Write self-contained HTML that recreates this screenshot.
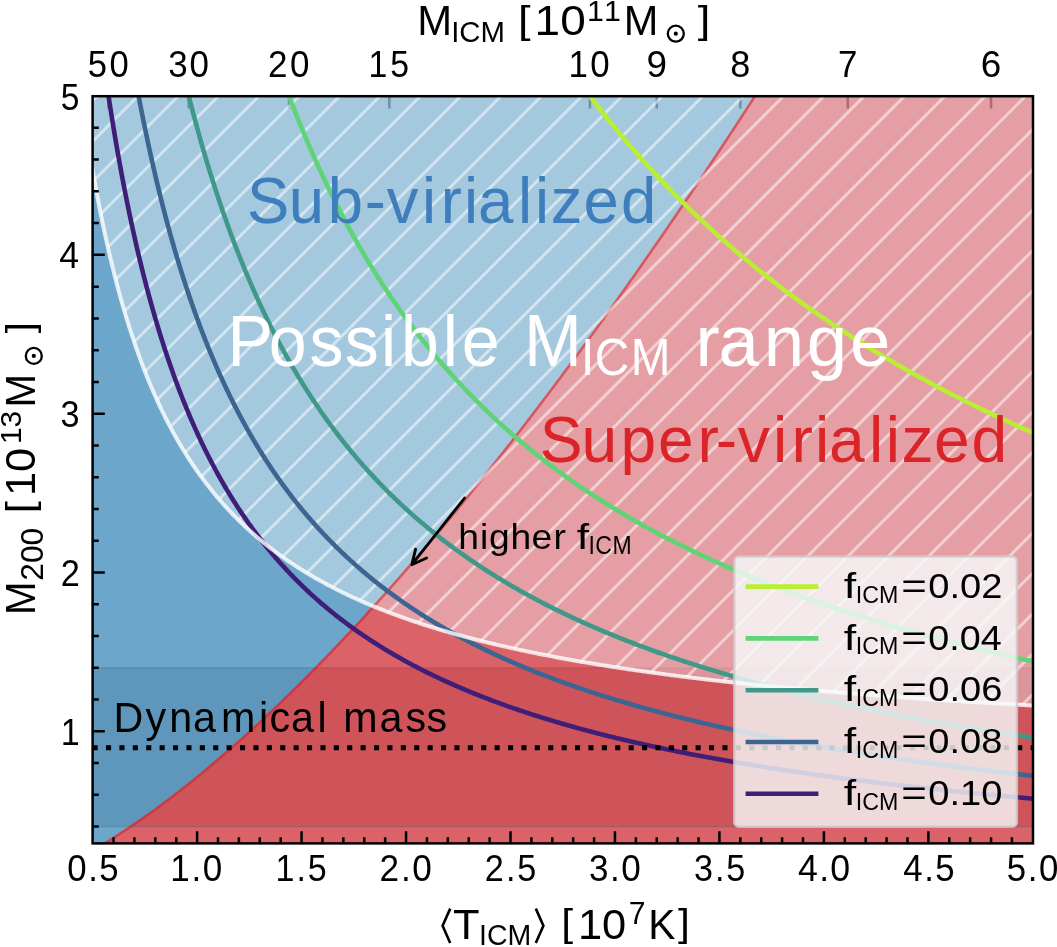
<!DOCTYPE html>
<html><head><meta charset="utf-8"><style>
html,body{margin:0;padding:0;background:#fff;width:1057px;height:947px;overflow:hidden}
svg{display:block}
text{font-family:"Liberation Sans",sans-serif;font-kerning:none}
.gt{opacity:0.999}
</style></head><body>
<svg width="1057" height="947" viewBox="0 0 1057 947"><defs>
<clipPath id="ax"><rect x="92.6" y="96.2" width="940.4" height="747.2"/></clipPath>
<clipPath id="hz"><polygon points="82.19,102.9 83.58,112.73 84.97,122.28 86.36,131.56 87.75,140.57 89.14,149.33 90.53,157.85 91.92,166.14 93.31,174.21 94.7,182.06 96.09,189.71 97.48,197.16 98.87,204.43 100.26,211.51 101.65,218.41 103.04,225.15 104.43,231.72 105.82,238.14 107.21,244.4 108.6,250.52 109.99,256.49 111.38,262.33 112.77,268.04 114.16,273.62 115.55,279.07 116.94,284.41 118.33,289.63 119.72,294.74 121.11,299.75 122.5,304.64 123.89,309.44 125.28,314.13 126.67,318.74 128.06,323.24 129.45,327.66 130.84,332 132.23,336.24 133.62,340.41 135.01,344.49 136.4,348.5 137.79,352.43 139.18,356.29 140.57,360.08 141.96,363.8 143.35,367.45 144.74,371.03 146.13,374.55 147.52,378.01 148.91,381.41 150.3,384.75 151.69,388.03 153.08,391.26 154.47,394.43 155.86,397.55 157.25,400.61 158.64,403.63 160.03,406.6 161.42,409.51 162.81,412.38 164.2,415.21 165.59,417.99 166.98,420.73 168.37,423.42 169.76,426.07 171.15,428.68 172.54,431.25 173.93,433.79 175.32,436.28 176.71,438.74 178.09,441.16 179.48,443.54 180.87,445.89 182.26,448.21 183.65,450.49 185.04,452.74 186.43,454.96 187.82,457.15 189.21,459.3 190.6,461.43 191.99,463.52 193.38,465.59 194.77,467.63 196.16,469.64 197.55,471.63 198.94,473.59 200.33,475.52 201.72,477.43 203.11,479.31 204.5,481.17 205.89,483 207.28,484.81 208.67,486.6 210.06,488.36 211.45,490.11 212.84,491.83 214.23,493.52 215.62,495.2 217.01,496.86 218.4,498.5 219.79,500.11 221.18,501.71 222.57,503.29 223.96,504.85 225.35,506.39 226.74,507.91 228.13,509.42 229.52,510.9 230.91,512.37 232.3,513.83 233.69,515.26 235.08,516.68 236.47,518.09 237.86,519.48 239.25,520.85 240.64,522.21 242.03,523.55 243.42,524.88 244.81,526.19 246.2,527.49 247.59,528.77 248.98,530.04 250.37,531.3 251.76,532.54 253.15,533.77 254.54,534.99 255.93,536.19 257.32,537.39 258.71,538.57 260.1,539.73 261.49,540.89 262.88,542.03 264.27,543.16 265.66,544.28 267.05,545.39 268.44,546.49 269.83,547.58 271.22,548.65 272.61,549.72 274,550.77 275.39,551.82 276.78,552.85 278.17,553.88 279.56,554.89 280.95,555.9 282.34,556.89 283.73,557.88 285.12,558.85 286.51,559.82 287.9,560.78 289.29,561.73 290.68,562.67 292.07,563.6 293.46,564.52 294.85,565.44 296.24,566.34 297.63,567.24 299.01,568.13 300.4,569.01 301.79,569.88 303.18,570.75 304.57,571.61 305.96,572.46 307.35,573.3 308.74,574.14 310.13,574.97 311.52,575.79 312.91,576.6 314.3,577.41 315.69,578.21 317.08,579 318.47,579.79 319.86,580.57 321.25,581.34 322.64,582.11 324.03,582.87 325.42,583.62 326.81,584.37 328.2,585.11 329.59,585.85 330.98,586.58 332.37,587.3 333.76,588.02 335.15,588.73 336.54,589.43 337.93,590.13 339.32,590.83 340.71,591.52 342.1,592.2 343.49,592.88 344.88,593.55 346.27,594.22 347.66,594.88 349.05,595.54 350.44,596.19 351.83,596.84 353.22,597.48 354.61,598.12 356,598.75 357.39,599.38 358.78,600 360.17,600.62 361.56,601.23 362.95,601.84 364.34,602.44 365.73,603.04 367.12,603.64 368.51,604.23 369.9,604.82 371.29,605.4 372.68,605.98 374.07,606.55 375.46,607.12 376.85,607.68 378.24,608.24 379.63,608.8 381.02,609.35 382.41,609.9 383.8,610.45 385.19,610.99 386.58,611.53 387.97,612.06 389.36,612.59 390.75,613.12 392.14,613.64 393.53,614.16 394.92,614.68 396.31,615.19 397.7,615.7 399.09,616.2 400.48,616.7 401.87,617.2 403.26,617.7 404.65,618.19 406.04,618.67 407.43,619.16 408.82,619.64 410.21,620.12 411.6,620.59 412.99,621.07 414.38,621.53 415.77,622 417.16,622.46 418.54,622.92 419.93,623.38 421.32,623.83 422.71,624.28 424.1,624.73 425.49,625.18 426.88,625.62 428.27,626.06 429.66,626.49 431.05,626.93 432.44,627.36 433.83,627.79 435.22,628.21 436.61,628.64 438,629.06 439.39,629.47 440.78,629.89 442.17,630.3 443.56,630.71 444.95,631.12 446.34,631.52 447.73,631.93 449.12,632.33 450.51,632.72 451.9,633.12 453.29,633.51 454.68,633.9 456.07,634.29 457.46,634.67 458.85,635.06 460.24,635.44 461.63,635.82 463.02,636.19 464.41,636.57 465.8,636.94 467.19,637.31 468.58,637.68 469.97,638.04 471.36,638.41 472.75,638.77 474.14,639.13 475.53,639.49 476.92,639.84 478.31,640.19 479.7,640.54 481.09,640.89 482.48,641.24 483.87,641.59 485.26,641.93 486.65,642.27 488.04,642.61 489.43,642.95 490.82,643.28 492.21,643.62 493.6,643.95 494.99,644.28 496.38,644.61 497.77,644.93 499.16,645.26 500.55,645.58 501.94,645.9 503.33,646.22 504.72,646.54 506.11,646.85 507.5,647.17 508.89,647.48 510.28,647.79 511.67,648.1 513.06,648.41 514.45,648.71 515.84,649.01 517.23,649.32 518.62,649.62 520.01,649.92 521.4,650.21 522.79,650.51 524.18,650.81 525.57,651.1 526.96,651.39 528.35,651.68 529.74,651.97 531.13,652.25 532.52,652.54 533.91,652.82 535.3,653.11 536.69,653.39 538.08,653.67 539.46,653.95 540.85,654.22 542.24,654.5 543.63,654.77 545.02,655.04 546.41,655.32 547.8,655.59 549.19,655.85 550.58,656.12 551.97,656.39 553.36,656.65 554.75,656.91 556.14,657.18 557.53,657.44 558.92,657.7 560.31,657.95 561.7,658.21 563.09,658.47 564.48,658.72 565.87,658.97 567.26,659.22 568.65,659.48 570.04,659.72 571.43,659.97 572.82,660.22 574.21,660.47 575.6,660.71 576.99,660.95 578.38,661.2 579.77,661.44 581.16,661.68 582.55,661.92 583.94,662.15 585.33,662.39 586.72,662.63 588.11,662.86 589.5,663.09 590.89,663.32 592.28,663.56 593.67,663.79 595.06,664.01 596.45,664.24 597.84,664.47 599.23,664.7 600.62,664.92 602.01,665.14 603.4,665.37 604.79,665.59 606.18,665.81 607.57,666.03 608.96,666.25 610.35,666.46 611.74,666.68 613.13,666.9 614.52,667.11 615.91,667.33 617.3,667.54 618.69,667.75 620.08,667.96 621.47,668.17 622.86,668.38 624.25,668.59 625.64,668.8 627.03,669 628.42,669.21 629.81,669.41 631.2,669.61 632.59,669.82 633.98,670.02 635.37,670.22 636.76,670.42 638.15,670.62 639.54,670.82 640.93,671.02 642.32,671.21 643.71,671.41 645.1,671.6 646.49,671.8 647.88,671.99 649.27,672.18 650.66,672.37 652.05,672.56 653.44,672.75 654.83,672.94 656.22,673.13 657.61,673.32 658.99,673.51 660.38,673.69 661.77,673.88 663.16,674.06 664.55,674.25 665.94,674.43 667.33,674.61 668.72,674.79 670.11,674.97 671.5,675.15 672.89,675.33 674.28,675.51 675.67,675.69 677.06,675.87 678.45,676.04 679.84,676.22 681.23,676.39 682.62,676.57 684.01,676.74 685.4,676.91 686.79,677.09 688.18,677.26 689.57,677.43 690.96,677.6 692.35,677.77 693.74,677.94 695.13,678.1 696.52,678.27 697.91,678.44 699.3,678.6 700.69,678.77 702.08,678.93 703.47,679.1 704.86,679.26 706.25,679.42 707.64,679.59 709.03,679.75 710.42,679.91 711.81,680.07 713.2,680.23 714.59,680.39 715.98,680.55 717.37,680.7 718.76,680.86 720.15,681.02 721.54,681.17 722.93,681.33 724.32,681.48 725.71,681.64 727.1,681.79 728.49,681.94 729.88,682.1 731.27,682.25 732.66,682.4 734.05,682.55 735.44,682.7 736.83,682.85 738.22,683 739.61,683.15 741,683.29 742.39,683.44 743.78,683.59 745.17,683.74 746.56,683.88 747.95,684.03 749.34,684.17 750.73,684.31 752.12,684.46 753.51,684.6 754.9,684.74 756.29,684.89 757.68,685.03 759.07,685.17 760.46,685.31 761.85,685.45 763.24,685.59 764.63,685.73 766.02,685.87 767.41,686 768.8,686.14 770.19,686.28 771.58,686.41 772.97,686.55 774.36,686.69 775.75,686.82 777.14,686.95 778.53,687.09 779.91,687.22 781.3,687.36 782.69,687.49 784.08,687.62 785.47,687.75 786.86,687.88 788.25,688.01 789.64,688.14 791.03,688.27 792.42,688.4 793.81,688.53 795.2,688.66 796.59,688.79 797.98,688.92 799.37,689.04 800.76,689.17 802.15,689.3 803.54,689.42 804.93,689.55 806.32,689.67 807.71,689.8 809.1,689.92 810.49,690.04 811.88,690.17 813.27,690.29 814.66,690.41 816.05,690.53 817.44,690.66 818.83,690.78 820.22,690.9 821.61,691.02 823,691.14 824.39,691.26 825.78,691.38 827.17,691.49 828.56,691.61 829.95,691.73 831.34,691.85 832.73,691.97 834.12,692.08 835.51,692.2 836.9,692.31 838.29,692.43 839.68,692.55 841.07,692.66 842.46,692.77 843.85,692.89 845.24,693 846.63,693.12 848.02,693.23 849.41,693.34 850.8,693.45 852.19,693.57 853.58,693.68 854.97,693.79 856.36,693.9 857.75,694.01 859.14,694.12 860.53,694.23 861.92,694.34 863.31,694.45 864.7,694.56 866.09,694.66 867.48,694.77 868.87,694.88 870.26,694.99 871.65,695.09 873.04,695.2 874.43,695.31 875.82,695.41 877.21,695.52 878.6,695.62 879.99,695.73 881.38,695.83 882.77,695.94 884.16,696.04 885.55,696.14 886.94,696.25 888.33,696.35 889.72,696.45 891.11,696.56 892.5,696.66 893.89,696.76 895.28,696.86 896.67,696.96 898.06,697.06 899.44,697.16 900.83,697.26 902.22,697.36 903.61,697.46 905,697.56 906.39,697.66 907.78,697.76 909.17,697.86 910.56,697.95 911.95,698.05 913.34,698.15 914.73,698.25 916.12,698.34 917.51,698.44 918.9,698.54 920.29,698.63 921.68,698.73 923.07,698.82 924.46,698.92 925.85,699.01 927.24,699.11 928.63,699.2 930.02,699.3 931.41,699.39 932.8,699.48 934.19,699.58 935.58,699.67 936.97,699.76 938.36,699.85 939.75,699.95 941.14,700.04 942.53,700.13 943.92,700.22 945.31,700.31 946.7,700.4 948.09,700.49 949.48,700.58 950.87,700.67 952.26,700.76 953.65,700.85 955.04,700.94 956.43,701.03 957.82,701.12 959.21,701.2 960.6,701.29 961.99,701.38 963.38,701.47 964.77,701.56 966.16,701.64 967.55,701.73 968.94,701.82 970.33,701.9 971.72,701.99 973.11,702.07 974.5,702.16 975.89,702.24 977.28,702.33 978.67,702.41 980.06,702.5 981.45,702.58 982.84,702.67 984.23,702.75 985.62,702.83 987.01,702.92 988.4,703 989.79,703.08 991.18,703.17 992.57,703.25 993.96,703.33 995.35,703.41 996.74,703.49 998.13,703.58 999.52,703.66 1000.91,703.74 1002.3,703.82 1003.69,703.9 1005.08,703.98 1006.47,704.06 1007.86,704.14 1009.25,704.22 1010.64,704.3 1012.03,704.38 1013.42,704.46 1014.81,704.54 1016.2,704.62 1017.59,704.69 1018.97,704.77 1020.36,704.85 1021.75,704.93 1023.14,705.01 1024.53,705.08 1025.92,705.16 1027.31,705.24 1028.7,705.31 1030.09,705.39 1031.48,705.47 1032.87,705.54 1034.26,705.62 1035.65,705.69 1037.04,705.77 1038.43,705.85 1039.82,705.92 1041.21,706 1042.6,706.07 1043.99,706.14 1045.38,706.22 1046.77,706.29 1048.16,706.37 1049.55,706.44 1050.94,706.51 1052.33,706.59 1053.72,706.66 1053.72,-100 82.19,-100"/></clipPath>
<clipPath id="sz"><polygon points="82.19,102.9 83.58,112.73 84.97,122.28 86.36,131.56 87.75,140.57 89.14,149.33 90.53,157.85 91.92,166.14 93.31,174.21 94.7,182.06 96.09,189.71 97.48,197.16 98.87,204.43 100.26,211.51 101.65,218.41 103.04,225.15 104.43,231.72 105.82,238.14 107.21,244.4 108.6,250.52 109.99,256.49 111.38,262.33 112.77,268.04 114.16,273.62 115.55,279.07 116.94,284.41 118.33,289.63 119.72,294.74 121.11,299.75 122.5,304.64 123.89,309.44 125.28,314.13 126.67,318.74 128.06,323.24 129.45,327.66 130.84,332 132.23,336.24 133.62,340.41 135.01,344.49 136.4,348.5 137.79,352.43 139.18,356.29 140.57,360.08 141.96,363.8 143.35,367.45 144.74,371.03 146.13,374.55 147.52,378.01 148.91,381.41 150.3,384.75 151.69,388.03 153.08,391.26 154.47,394.43 155.86,397.55 157.25,400.61 158.64,403.63 160.03,406.6 161.42,409.51 162.81,412.38 164.2,415.21 165.59,417.99 166.98,420.73 168.37,423.42 169.76,426.07 171.15,428.68 172.54,431.25 173.93,433.79 175.32,436.28 176.71,438.74 178.09,441.16 179.48,443.54 180.87,445.89 182.26,448.21 183.65,450.49 185.04,452.74 186.43,454.96 187.82,457.15 189.21,459.3 190.6,461.43 191.99,463.52 193.38,465.59 194.77,467.63 196.16,469.64 197.55,471.63 198.94,473.59 200.33,475.52 201.72,477.43 203.11,479.31 204.5,481.17 205.89,483 207.28,484.81 208.67,486.6 210.06,488.36 211.45,490.11 212.84,491.83 214.23,493.52 215.62,495.2 217.01,496.86 218.4,498.5 219.79,500.11 221.18,501.71 222.57,503.29 223.96,504.85 225.35,506.39 226.74,507.91 228.13,509.42 229.52,510.9 230.91,512.37 232.3,513.83 233.69,515.26 235.08,516.68 236.47,518.09 237.86,519.48 239.25,520.85 240.64,522.21 242.03,523.55 243.42,524.88 244.81,526.19 246.2,527.49 247.59,528.77 248.98,530.04 250.37,531.3 251.76,532.54 253.15,533.77 254.54,534.99 255.93,536.19 257.32,537.39 258.71,538.57 260.1,539.73 261.49,540.89 262.88,542.03 264.27,543.16 265.66,544.28 267.05,545.39 268.44,546.49 269.83,547.58 271.22,548.65 272.61,549.72 274,550.77 275.39,551.82 276.78,552.85 278.17,553.88 279.56,554.89 280.95,555.9 282.34,556.89 283.73,557.88 285.12,558.85 286.51,559.82 287.9,560.78 289.29,561.73 290.68,562.67 292.07,563.6 293.46,564.52 294.85,565.44 296.24,566.34 297.63,567.24 299.01,568.13 300.4,569.01 301.79,569.88 303.18,570.75 304.57,571.61 305.96,572.46 307.35,573.3 308.74,574.14 310.13,574.97 311.52,575.79 312.91,576.6 314.3,577.41 315.69,578.21 317.08,579 318.47,579.79 319.86,580.57 321.25,581.34 322.64,582.11 324.03,582.87 325.42,583.62 326.81,584.37 328.2,585.11 329.59,585.85 330.98,586.58 332.37,587.3 333.76,588.02 335.15,588.73 336.54,589.43 337.93,590.13 339.32,590.83 340.71,591.52 342.1,592.2 343.49,592.88 344.88,593.55 346.27,594.22 347.66,594.88 349.05,595.54 350.44,596.19 351.83,596.84 353.22,597.48 354.61,598.12 356,598.75 357.39,599.38 358.78,600 360.17,600.62 361.56,601.23 362.95,601.84 364.34,602.44 365.73,603.04 367.12,603.64 368.51,604.23 369.9,604.82 371.29,605.4 372.68,605.98 374.07,606.55 375.46,607.12 376.85,607.68 378.24,608.24 379.63,608.8 381.02,609.35 382.41,609.9 383.8,610.45 385.19,610.99 386.58,611.53 387.97,612.06 389.36,612.59 390.75,613.12 392.14,613.64 393.53,614.16 394.92,614.68 396.31,615.19 397.7,615.7 399.09,616.2 400.48,616.7 401.87,617.2 403.26,617.7 404.65,618.19 406.04,618.67 407.43,619.16 408.82,619.64 410.21,620.12 411.6,620.59 412.99,621.07 414.38,621.53 415.77,622 417.16,622.46 418.54,622.92 419.93,623.38 421.32,623.83 422.71,624.28 424.1,624.73 425.49,625.18 426.88,625.62 428.27,626.06 429.66,626.49 431.05,626.93 432.44,627.36 433.83,627.79 435.22,628.21 436.61,628.64 438,629.06 439.39,629.47 440.78,629.89 442.17,630.3 443.56,630.71 444.95,631.12 446.34,631.52 447.73,631.93 449.12,632.33 450.51,632.72 451.9,633.12 453.29,633.51 454.68,633.9 456.07,634.29 457.46,634.67 458.85,635.06 460.24,635.44 461.63,635.82 463.02,636.19 464.41,636.57 465.8,636.94 467.19,637.31 468.58,637.68 469.97,638.04 471.36,638.41 472.75,638.77 474.14,639.13 475.53,639.49 476.92,639.84 478.31,640.19 479.7,640.54 481.09,640.89 482.48,641.24 483.87,641.59 485.26,641.93 486.65,642.27 488.04,642.61 489.43,642.95 490.82,643.28 492.21,643.62 493.6,643.95 494.99,644.28 496.38,644.61 497.77,644.93 499.16,645.26 500.55,645.58 501.94,645.9 503.33,646.22 504.72,646.54 506.11,646.85 507.5,647.17 508.89,647.48 510.28,647.79 511.67,648.1 513.06,648.41 514.45,648.71 515.84,649.01 517.23,649.32 518.62,649.62 520.01,649.92 521.4,650.21 522.79,650.51 524.18,650.81 525.57,651.1 526.96,651.39 528.35,651.68 529.74,651.97 531.13,652.25 532.52,652.54 533.91,652.82 535.3,653.11 536.69,653.39 538.08,653.67 539.46,653.95 540.85,654.22 542.24,654.5 543.63,654.77 545.02,655.04 546.41,655.32 547.8,655.59 549.19,655.85 550.58,656.12 551.97,656.39 553.36,656.65 554.75,656.91 556.14,657.18 557.53,657.44 558.92,657.7 560.31,657.95 561.7,658.21 563.09,658.47 564.48,658.72 565.87,658.97 567.26,659.22 568.65,659.48 570.04,659.72 571.43,659.97 572.82,660.22 574.21,660.47 575.6,660.71 576.99,660.95 578.38,661.2 579.77,661.44 581.16,661.68 582.55,661.92 583.94,662.15 585.33,662.39 586.72,662.63 588.11,662.86 589.5,663.09 590.89,663.32 592.28,663.56 593.67,663.79 595.06,664.01 596.45,664.24 597.84,664.47 599.23,664.7 600.62,664.92 602.01,665.14 603.4,665.37 604.79,665.59 606.18,665.81 607.57,666.03 608.96,666.25 610.35,666.46 611.74,666.68 613.13,666.9 614.52,667.11 615.91,667.33 617.3,667.54 618.69,667.75 620.08,667.96 621.47,668.17 622.86,668.38 624.25,668.59 625.64,668.8 627.03,669 628.42,669.21 629.81,669.41 631.2,669.61 632.59,669.82 633.98,670.02 635.37,670.22 636.76,670.42 638.15,670.62 639.54,670.82 640.93,671.02 642.32,671.21 643.71,671.41 645.1,671.6 646.49,671.8 647.88,671.99 649.27,672.18 650.66,672.37 652.05,672.56 653.44,672.75 654.83,672.94 656.22,673.13 657.61,673.32 658.99,673.51 660.38,673.69 661.77,673.88 663.16,674.06 664.55,674.25 665.94,674.43 667.33,674.61 668.72,674.79 670.11,674.97 671.5,675.15 672.89,675.33 674.28,675.51 675.67,675.69 677.06,675.87 678.45,676.04 679.84,676.22 681.23,676.39 682.62,676.57 684.01,676.74 685.4,676.91 686.79,677.09 688.18,677.26 689.57,677.43 690.96,677.6 692.35,677.77 693.74,677.94 695.13,678.1 696.52,678.27 697.91,678.44 699.3,678.6 700.69,678.77 702.08,678.93 703.47,679.1 704.86,679.26 706.25,679.42 707.64,679.59 709.03,679.75 710.42,679.91 711.81,680.07 713.2,680.23 714.59,680.39 715.98,680.55 717.37,680.7 718.76,680.86 720.15,681.02 721.54,681.17 722.93,681.33 724.32,681.48 725.71,681.64 727.1,681.79 728.49,681.94 729.88,682.1 731.27,682.25 732.66,682.4 734.05,682.55 735.44,682.7 736.83,682.85 738.22,683 739.61,683.15 741,683.29 742.39,683.44 743.78,683.59 745.17,683.74 746.56,683.88 747.95,684.03 749.34,684.17 750.73,684.31 752.12,684.46 753.51,684.6 754.9,684.74 756.29,684.89 757.68,685.03 759.07,685.17 760.46,685.31 761.85,685.45 763.24,685.59 764.63,685.73 766.02,685.87 767.41,686 768.8,686.14 770.19,686.28 771.58,686.41 772.97,686.55 774.36,686.69 775.75,686.82 777.14,686.95 778.53,687.09 779.91,687.22 781.3,687.36 782.69,687.49 784.08,687.62 785.47,687.75 786.86,687.88 788.25,688.01 789.64,688.14 791.03,688.27 792.42,688.4 793.81,688.53 795.2,688.66 796.59,688.79 797.98,688.92 799.37,689.04 800.76,689.17 802.15,689.3 803.54,689.42 804.93,689.55 806.32,689.67 807.71,689.8 809.1,689.92 810.49,690.04 811.88,690.17 813.27,690.29 814.66,690.41 816.05,690.53 817.44,690.66 818.83,690.78 820.22,690.9 821.61,691.02 823,691.14 824.39,691.26 825.78,691.38 827.17,691.49 828.56,691.61 829.95,691.73 831.34,691.85 832.73,691.97 834.12,692.08 835.51,692.2 836.9,692.31 838.29,692.43 839.68,692.55 841.07,692.66 842.46,692.77 843.85,692.89 845.24,693 846.63,693.12 848.02,693.23 849.41,693.34 850.8,693.45 852.19,693.57 853.58,693.68 854.97,693.79 856.36,693.9 857.75,694.01 859.14,694.12 860.53,694.23 861.92,694.34 863.31,694.45 864.7,694.56 866.09,694.66 867.48,694.77 868.87,694.88 870.26,694.99 871.65,695.09 873.04,695.2 874.43,695.31 875.82,695.41 877.21,695.52 878.6,695.62 879.99,695.73 881.38,695.83 882.77,695.94 884.16,696.04 885.55,696.14 886.94,696.25 888.33,696.35 889.72,696.45 891.11,696.56 892.5,696.66 893.89,696.76 895.28,696.86 896.67,696.96 898.06,697.06 899.44,697.16 900.83,697.26 902.22,697.36 903.61,697.46 905,697.56 906.39,697.66 907.78,697.76 909.17,697.86 910.56,697.95 911.95,698.05 913.34,698.15 914.73,698.25 916.12,698.34 917.51,698.44 918.9,698.54 920.29,698.63 921.68,698.73 923.07,698.82 924.46,698.92 925.85,699.01 927.24,699.11 928.63,699.2 930.02,699.3 931.41,699.39 932.8,699.48 934.19,699.58 935.58,699.67 936.97,699.76 938.36,699.85 939.75,699.95 941.14,700.04 942.53,700.13 943.92,700.22 945.31,700.31 946.7,700.4 948.09,700.49 949.48,700.58 950.87,700.67 952.26,700.76 953.65,700.85 955.04,700.94 956.43,701.03 957.82,701.12 959.21,701.2 960.6,701.29 961.99,701.38 963.38,701.47 964.77,701.56 966.16,701.64 967.55,701.73 968.94,701.82 970.33,701.9 971.72,701.99 973.11,702.07 974.5,702.16 975.89,702.24 977.28,702.33 978.67,702.41 980.06,702.5 981.45,702.58 982.84,702.67 984.23,702.75 985.62,702.83 987.01,702.92 988.4,703 989.79,703.08 991.18,703.17 992.57,703.25 993.96,703.33 995.35,703.41 996.74,703.49 998.13,703.58 999.52,703.66 1000.91,703.74 1002.3,703.82 1003.69,703.9 1005.08,703.98 1006.47,704.06 1007.86,704.14 1009.25,704.22 1010.64,704.3 1012.03,704.38 1013.42,704.46 1014.81,704.54 1016.2,704.62 1017.59,704.69 1018.97,704.77 1020.36,704.85 1021.75,704.93 1023.14,705.01 1024.53,705.08 1025.92,705.16 1027.31,705.24 1028.7,705.31 1030.09,705.39 1031.48,705.47 1032.87,705.54 1034.26,705.62 1035.65,705.69 1037.04,705.77 1038.43,705.85 1039.82,705.92 1041.21,706 1042.6,706.07 1043.99,706.14 1045.38,706.22 1046.77,706.29 1048.16,706.37 1049.55,706.44 1050.94,706.51 1052.33,706.59 1053.72,706.66 1053.72,1000 82.19,1000"/></clipPath>
<clipPath id="band"><rect x="0" y="667.8" width="1057" height="158.82"/></clipPath>
</defs>
<rect width="1057" height="947" fill="#fff"/>
<g clip-path="url(#ax)">
<rect x="0" y="0" width="1057" height="947" fill="rgb(108,166,203)"/>
<polygon points="82.19,855.41 83.58,854.64 84.97,853.87 86.36,853.09 87.75,852.3 89.14,851.51 90.53,850.72 91.92,849.91 93.31,849.11 94.7,848.3 96.09,847.48 97.48,846.66 98.87,845.83 100.26,844.99 101.65,844.16 103.04,843.31 104.43,842.46 105.82,841.61 107.21,840.75 108.6,839.89 109.99,839.02 111.38,838.15 112.77,837.27 114.16,836.39 115.55,835.5 116.94,834.61 118.33,833.71 119.72,832.81 121.11,831.9 122.5,830.99 123.89,830.08 125.28,829.16 126.67,828.23 128.06,827.3 129.45,826.37 130.84,825.43 132.23,824.49 133.62,823.54 135.01,822.59 136.4,821.63 137.79,820.67 139.18,819.7 140.57,818.73 141.96,817.76 143.35,816.78 144.74,815.8 146.13,814.81 147.52,813.82 148.91,812.82 150.3,811.82 151.69,810.82 153.08,809.81 154.47,808.8 155.86,807.78 157.25,806.76 158.64,805.74 160.03,804.71 161.42,803.67 162.81,802.64 164.2,801.59 165.59,800.55 166.98,799.5 168.37,798.45 169.76,797.39 171.15,796.33 172.54,795.26 173.93,794.19 175.32,793.12 176.71,792.04 178.09,790.96 179.48,789.88 180.87,788.79 182.26,787.69 183.65,786.6 185.04,785.5 186.43,784.39 187.82,783.28 189.21,782.17 190.6,781.05 191.99,779.94 193.38,778.81 194.77,777.68 196.16,776.55 197.55,775.42 198.94,774.28 200.33,773.14 201.72,771.99 203.11,770.84 204.5,769.69 205.89,768.53 207.28,767.37 208.67,766.21 210.06,765.04 211.45,763.87 212.84,762.7 214.23,761.52 215.62,760.33 217.01,759.15 218.4,757.96 219.79,756.77 221.18,755.57 222.57,754.37 223.96,753.17 225.35,751.96 226.74,750.75 228.13,749.54 229.52,748.32 230.91,747.1 232.3,745.88 233.69,744.65 235.08,743.42 236.47,742.18 237.86,740.95 239.25,739.7 240.64,738.46 242.03,737.21 243.42,735.96 244.81,734.71 246.2,733.45 247.59,732.19 248.98,730.92 250.37,729.65 251.76,728.38 253.15,727.11 254.54,725.83 255.93,724.55 257.32,723.27 258.71,721.98 260.1,720.69 261.49,719.39 262.88,718.09 264.27,716.79 265.66,715.49 267.05,714.18 268.44,712.87 269.83,711.56 271.22,710.24 272.61,708.92 274,707.6 275.39,706.27 276.78,704.94 278.17,703.61 279.56,702.28 280.95,700.94 282.34,699.59 283.73,698.25 285.12,696.9 286.51,695.55 287.9,694.2 289.29,692.84 290.68,691.48 292.07,690.11 293.46,688.75 294.85,687.38 296.24,686 297.63,684.63 299.01,683.25 300.4,681.87 301.79,680.48 303.18,679.09 304.57,677.7 305.96,676.31 307.35,674.91 308.74,673.51 310.13,672.11 311.52,670.7 312.91,669.29 314.3,667.88 315.69,666.47 317.08,665.05 318.47,663.63 319.86,662.2 321.25,660.78 322.64,659.35 324.03,657.91 325.42,656.48 326.81,655.04 328.2,653.6 329.59,652.15 330.98,650.71 332.37,649.26 333.76,647.8 335.15,646.35 336.54,644.89 337.93,643.43 339.32,641.96 340.71,640.49 342.1,639.02 343.49,637.55 344.88,636.08 346.27,634.6 347.66,633.11 349.05,631.63 350.44,630.14 351.83,628.65 353.22,627.16 354.61,625.66 356,624.17 357.39,622.66 358.78,621.16 360.17,619.65 361.56,618.14 362.95,616.63 364.34,615.12 365.73,613.6 367.12,612.08 368.51,610.56 369.9,609.03 371.29,607.5 372.68,605.97 374.07,604.43 375.46,602.9 376.85,601.36 378.24,599.82 379.63,598.27 381.02,596.72 382.41,595.17 383.8,593.62 385.19,592.06 386.58,590.5 387.97,588.94 389.36,587.38 390.75,585.81 392.14,584.24 393.53,582.67 394.92,581.1 396.31,579.52 397.7,577.94 399.09,576.36 400.48,574.77 401.87,573.18 403.26,571.59 404.65,570 406.04,568.4 407.43,566.81 408.82,565.2 410.21,563.6 411.6,562 412.99,560.39 414.38,558.78 415.77,557.16 417.16,555.54 418.54,553.93 419.93,552.3 421.32,550.68 422.71,549.05 424.1,547.42 425.49,545.79 426.88,544.16 428.27,542.52 429.66,540.88 431.05,539.24 432.44,537.59 433.83,535.95 435.22,534.3 436.61,532.64 438,530.99 439.39,529.33 440.78,527.67 442.17,526.01 443.56,524.35 444.95,522.68 446.34,521.01 447.73,519.34 449.12,517.66 450.51,515.98 451.9,514.3 453.29,512.62 454.68,510.94 456.07,509.25 457.46,507.56 458.85,505.87 460.24,504.17 461.63,502.48 463.02,500.78 464.41,499.07 465.8,497.37 467.19,495.66 468.58,493.95 469.97,492.24 471.36,490.53 472.75,488.81 474.14,487.09 475.53,485.37 476.92,483.65 478.31,481.92 479.7,480.19 481.09,478.46 482.48,476.73 483.87,474.99 485.26,473.25 486.65,471.51 488.04,469.77 489.43,468.02 490.82,466.28 492.21,464.53 493.6,462.77 494.99,461.02 496.38,459.26 497.77,457.5 499.16,455.74 500.55,453.97 501.94,452.21 503.33,450.44 504.72,448.67 506.11,446.89 507.5,445.12 508.89,443.34 510.28,441.56 511.67,439.77 513.06,437.99 514.45,436.2 515.84,434.41 517.23,432.62 518.62,430.82 520.01,429.03 521.4,427.23 522.79,425.43 524.18,423.62 525.57,421.81 526.96,420.01 528.35,418.19 529.74,416.38 531.13,414.57 532.52,412.75 533.91,410.93 535.3,409.11 536.69,407.28 538.08,405.45 539.46,403.62 540.85,401.79 542.24,399.96 543.63,398.12 545.02,396.28 546.41,394.44 547.8,392.6 549.19,390.76 550.58,388.91 551.97,387.06 553.36,385.21 554.75,383.35 556.14,381.5 557.53,379.64 558.92,377.78 560.31,375.91 561.7,374.05 563.09,372.18 564.48,370.31 565.87,368.44 567.26,366.57 568.65,364.69 570.04,362.81 571.43,360.93 572.82,359.05 574.21,357.16 575.6,355.27 576.99,353.38 578.38,351.49 579.77,349.6 581.16,347.7 582.55,345.8 583.94,343.9 585.33,342 586.72,340.09 588.11,338.19 589.5,336.28 590.89,334.37 592.28,332.45 593.67,330.54 595.06,328.62 596.45,326.7 597.84,324.78 599.23,322.85 600.62,320.93 602.01,319 603.4,317.07 604.79,315.13 606.18,313.2 607.57,311.26 608.96,309.32 610.35,307.38 611.74,305.44 613.13,303.49 614.52,301.54 615.91,299.59 617.3,297.64 618.69,295.68 620.08,293.73 621.47,291.77 622.86,289.81 624.25,287.85 625.64,285.88 627.03,283.91 628.42,281.94 629.81,279.97 631.2,278 632.59,276.02 633.98,274.05 635.37,272.07 636.76,270.08 638.15,268.1 639.54,266.11 640.93,264.13 642.32,262.14 643.71,260.14 645.1,258.15 646.49,256.15 647.88,254.15 649.27,252.15 650.66,250.15 652.05,248.15 653.44,246.14 654.83,244.13 656.22,242.12 657.61,240.11 658.99,238.09 660.38,236.07 661.77,234.06 663.16,232.03 664.55,230.01 665.94,227.99 667.33,225.96 668.72,223.93 670.11,221.9 671.5,219.86 672.89,217.83 674.28,215.79 675.67,213.75 677.06,211.71 678.45,209.67 679.84,207.62 681.23,205.57 682.62,203.52 684.01,201.47 685.4,199.42 686.79,197.36 688.18,195.3 689.57,193.24 690.96,191.18 692.35,189.12 693.74,187.05 695.13,184.98 696.52,182.91 697.91,180.84 699.3,178.77 700.69,176.69 702.08,174.62 703.47,172.54 704.86,170.45 706.25,168.37 707.64,166.28 709.03,164.2 710.42,162.11 711.81,160.01 713.2,157.92 714.59,155.83 715.98,153.73 717.37,151.63 718.76,149.53 720.15,147.42 721.54,145.32 722.93,143.21 724.32,141.1 725.71,138.99 727.1,136.88 728.49,134.76 729.88,132.64 731.27,130.52 732.66,128.4 734.05,126.28 735.44,124.15 736.83,122.03 738.22,119.9 739.61,117.77 741,115.63 742.39,113.5 743.78,111.36 745.17,109.22 746.56,107.08 747.95,104.94 749.34,102.8 750.73,100.65 752.12,98.5 753.51,96.35 754.9,94.2 756.29,92.04 757.68,89.89 759.07,87.73 760.46,85.57 761.85,83.41 763.24,81.25 764.63,79.08 766.02,76.91 767.41,74.74 768.8,72.57 770.19,70.4 771.58,68.22 772.97,66.05 774.36,63.87 775.75,61.69 777.14,59.5 778.53,57.32 779.91,55.13 781.3,52.94 782.69,50.75 784.08,48.56 785.47,46.37 786.86,44.17 788.25,41.97 789.64,39.77 791.03,37.57 792.42,35.37 793.81,33.16 795.2,30.96 796.59,28.75 797.98,26.54 799.37,24.32 800.76,22.11 802.15,19.89 803.54,17.67 804.93,15.45 806.32,13.23 807.71,11.01 809.1,8.78 810.49,6.55 811.88,4.32 813.27,2.09 814.66,-0.14 816.05,-2.38 817.44,-4.61 818.83,-6.85 820.22,-9.09 821.61,-11.33 823,-13.58 824.39,-15.83 825.78,-18.07 827.17,-20.32 828.56,-22.58 829.95,-24.83 831.34,-27.08 832.73,-29.34 834.12,-31.6 835.51,-33.86 836.9,-36.12 838.29,-38.39 839.68,-40.65 841.07,-42.92 842.46,-45.19 843.85,-47.46 845.24,-49.74 846.63,-52.01 848.02,-54.29 849.41,-56.57 850.8,-58.85 852.19,-61.13 853.58,-63.42 854.97,-65.7 856.36,-67.99 857.75,-70.28 859.14,-72.57 860.53,-74.87 861.92,-77.16 863.31,-79.46 864.7,-81.76 866.09,-84.06 867.48,-86.36 868.87,-88.67 870.26,-90.97 871.65,-93.28 873.04,-95.59 874.43,-97.9 875.82,-100.21 877.21,-102.53 878.6,-104.85 879.99,-107.16 881.38,-109.49 882.77,-111.81 884.16,-114.13 885.55,-116.46 886.94,-118.78 888.33,-121.11 889.72,-123.44 891.11,-125.78 892.5,-128.11 893.89,-130.45 895.28,-132.79 896.67,-135.13 898.06,-137.47 899.44,-139.81 900.83,-142.16 902.22,-144.5 903.61,-146.85 905,-149.2 906.39,-151.55 907.78,-153.91 909.17,-156.26 910.56,-158.62 911.95,-160.98 913.34,-163.34 914.73,-165.7 916.12,-168.07 917.51,-170.43 918.9,-172.8 920.29,-175.17 921.68,-177.54 923.07,-179.92 924.46,-182.29 925.85,-184.67 927.24,-187.05 928.63,-189.43 930.02,-191.81 931.41,-194.19 932.8,-196.58 934.19,-198.96 935.58,-201.35 936.97,-203.74 938.36,-206.14 939.75,-208.53 941.14,-210.92 942.53,-213.32 943.92,-215.72 945.31,-218.12 946.7,-220.52 948.09,-222.93 949.48,-225.33 950.87,-227.74 952.26,-230.15 953.65,-232.56 955.04,-234.97 956.43,-237.39 957.82,-239.81 959.21,-242.22 960.6,-244.64 961.99,-247.06 963.38,-249.49 964.77,-251.91 966.16,-254.34 967.55,-256.77 968.94,-259.2 970.33,-261.63 971.72,-264.06 973.11,-266.5 974.5,-268.93 975.89,-271.37 977.28,-273.81 978.67,-276.25 980.06,-278.69 981.45,-281.14 982.84,-283.59 984.23,-286.03 985.62,-288.48 987.01,-290.94 988.4,-293.39 989.79,-295.85 991.18,-298.3 992.57,-300.76 993.96,-303.22 995.35,-305.68 996.74,-308.15 998.13,-310.61 999.52,-313.08 1000.91,-315.55 1002.3,-318.02 1003.69,-320.49 1005.08,-322.96 1006.47,-325.44 1007.86,-327.91 1009.25,-330.39 1010.64,-332.87 1012.03,-335.35 1013.42,-337.84 1014.81,-340.32 1016.2,-342.81 1017.59,-345.3 1018.97,-347.79 1020.36,-350.28 1021.75,-352.77 1023.14,-355.27 1024.53,-357.76 1025.92,-360.26 1027.31,-362.76 1028.7,-365.26 1030.09,-367.77 1031.48,-370.27 1032.87,-372.78 1034.26,-375.29 1035.65,-377.8 1037.04,-380.31 1038.43,-382.82 1039.82,-385.34 1041.21,-387.85 1042.6,-390.37 1043.99,-392.89 1045.38,-395.41 1046.77,-397.93 1048.16,-400.46 1049.55,-402.98 1050.94,-405.51 1052.33,-408.04 1053.72,-410.57 1053.72,1000 -100,1000" fill="rgb(219,98,104)"/>
<g clip-path="url(#band)">
<rect x="0" y="0" width="1057" height="947" fill="rgb(94,151,187)"/>
<polygon points="82.19,855.41 83.58,854.64 84.97,853.87 86.36,853.09 87.75,852.3 89.14,851.51 90.53,850.72 91.92,849.91 93.31,849.11 94.7,848.3 96.09,847.48 97.48,846.66 98.87,845.83 100.26,844.99 101.65,844.16 103.04,843.31 104.43,842.46 105.82,841.61 107.21,840.75 108.6,839.89 109.99,839.02 111.38,838.15 112.77,837.27 114.16,836.39 115.55,835.5 116.94,834.61 118.33,833.71 119.72,832.81 121.11,831.9 122.5,830.99 123.89,830.08 125.28,829.16 126.67,828.23 128.06,827.3 129.45,826.37 130.84,825.43 132.23,824.49 133.62,823.54 135.01,822.59 136.4,821.63 137.79,820.67 139.18,819.7 140.57,818.73 141.96,817.76 143.35,816.78 144.74,815.8 146.13,814.81 147.52,813.82 148.91,812.82 150.3,811.82 151.69,810.82 153.08,809.81 154.47,808.8 155.86,807.78 157.25,806.76 158.64,805.74 160.03,804.71 161.42,803.67 162.81,802.64 164.2,801.59 165.59,800.55 166.98,799.5 168.37,798.45 169.76,797.39 171.15,796.33 172.54,795.26 173.93,794.19 175.32,793.12 176.71,792.04 178.09,790.96 179.48,789.88 180.87,788.79 182.26,787.69 183.65,786.6 185.04,785.5 186.43,784.39 187.82,783.28 189.21,782.17 190.6,781.05 191.99,779.94 193.38,778.81 194.77,777.68 196.16,776.55 197.55,775.42 198.94,774.28 200.33,773.14 201.72,771.99 203.11,770.84 204.5,769.69 205.89,768.53 207.28,767.37 208.67,766.21 210.06,765.04 211.45,763.87 212.84,762.7 214.23,761.52 215.62,760.33 217.01,759.15 218.4,757.96 219.79,756.77 221.18,755.57 222.57,754.37 223.96,753.17 225.35,751.96 226.74,750.75 228.13,749.54 229.52,748.32 230.91,747.1 232.3,745.88 233.69,744.65 235.08,743.42 236.47,742.18 237.86,740.95 239.25,739.7 240.64,738.46 242.03,737.21 243.42,735.96 244.81,734.71 246.2,733.45 247.59,732.19 248.98,730.92 250.37,729.65 251.76,728.38 253.15,727.11 254.54,725.83 255.93,724.55 257.32,723.27 258.71,721.98 260.1,720.69 261.49,719.39 262.88,718.09 264.27,716.79 265.66,715.49 267.05,714.18 268.44,712.87 269.83,711.56 271.22,710.24 272.61,708.92 274,707.6 275.39,706.27 276.78,704.94 278.17,703.61 279.56,702.28 280.95,700.94 282.34,699.59 283.73,698.25 285.12,696.9 286.51,695.55 287.9,694.2 289.29,692.84 290.68,691.48 292.07,690.11 293.46,688.75 294.85,687.38 296.24,686 297.63,684.63 299.01,683.25 300.4,681.87 301.79,680.48 303.18,679.09 304.57,677.7 305.96,676.31 307.35,674.91 308.74,673.51 310.13,672.11 311.52,670.7 312.91,669.29 314.3,667.88 315.69,666.47 317.08,665.05 318.47,663.63 319.86,662.2 321.25,660.78 322.64,659.35 324.03,657.91 325.42,656.48 326.81,655.04 328.2,653.6 329.59,652.15 330.98,650.71 332.37,649.26 333.76,647.8 335.15,646.35 336.54,644.89 337.93,643.43 339.32,641.96 340.71,640.49 342.1,639.02 343.49,637.55 344.88,636.08 346.27,634.6 347.66,633.11 349.05,631.63 350.44,630.14 351.83,628.65 353.22,627.16 354.61,625.66 356,624.17 357.39,622.66 358.78,621.16 360.17,619.65 361.56,618.14 362.95,616.63 364.34,615.12 365.73,613.6 367.12,612.08 368.51,610.56 369.9,609.03 371.29,607.5 372.68,605.97 374.07,604.43 375.46,602.9 376.85,601.36 378.24,599.82 379.63,598.27 381.02,596.72 382.41,595.17 383.8,593.62 385.19,592.06 386.58,590.5 387.97,588.94 389.36,587.38 390.75,585.81 392.14,584.24 393.53,582.67 394.92,581.1 396.31,579.52 397.7,577.94 399.09,576.36 400.48,574.77 401.87,573.18 403.26,571.59 404.65,570 406.04,568.4 407.43,566.81 408.82,565.2 410.21,563.6 411.6,562 412.99,560.39 414.38,558.78 415.77,557.16 417.16,555.54 418.54,553.93 419.93,552.3 421.32,550.68 422.71,549.05 424.1,547.42 425.49,545.79 426.88,544.16 428.27,542.52 429.66,540.88 431.05,539.24 432.44,537.59 433.83,535.95 435.22,534.3 436.61,532.64 438,530.99 439.39,529.33 440.78,527.67 442.17,526.01 443.56,524.35 444.95,522.68 446.34,521.01 447.73,519.34 449.12,517.66 450.51,515.98 451.9,514.3 453.29,512.62 454.68,510.94 456.07,509.25 457.46,507.56 458.85,505.87 460.24,504.17 461.63,502.48 463.02,500.78 464.41,499.07 465.8,497.37 467.19,495.66 468.58,493.95 469.97,492.24 471.36,490.53 472.75,488.81 474.14,487.09 475.53,485.37 476.92,483.65 478.31,481.92 479.7,480.19 481.09,478.46 482.48,476.73 483.87,474.99 485.26,473.25 486.65,471.51 488.04,469.77 489.43,468.02 490.82,466.28 492.21,464.53 493.6,462.77 494.99,461.02 496.38,459.26 497.77,457.5 499.16,455.74 500.55,453.97 501.94,452.21 503.33,450.44 504.72,448.67 506.11,446.89 507.5,445.12 508.89,443.34 510.28,441.56 511.67,439.77 513.06,437.99 514.45,436.2 515.84,434.41 517.23,432.62 518.62,430.82 520.01,429.03 521.4,427.23 522.79,425.43 524.18,423.62 525.57,421.81 526.96,420.01 528.35,418.19 529.74,416.38 531.13,414.57 532.52,412.75 533.91,410.93 535.3,409.11 536.69,407.28 538.08,405.45 539.46,403.62 540.85,401.79 542.24,399.96 543.63,398.12 545.02,396.28 546.41,394.44 547.8,392.6 549.19,390.76 550.58,388.91 551.97,387.06 553.36,385.21 554.75,383.35 556.14,381.5 557.53,379.64 558.92,377.78 560.31,375.91 561.7,374.05 563.09,372.18 564.48,370.31 565.87,368.44 567.26,366.57 568.65,364.69 570.04,362.81 571.43,360.93 572.82,359.05 574.21,357.16 575.6,355.27 576.99,353.38 578.38,351.49 579.77,349.6 581.16,347.7 582.55,345.8 583.94,343.9 585.33,342 586.72,340.09 588.11,338.19 589.5,336.28 590.89,334.37 592.28,332.45 593.67,330.54 595.06,328.62 596.45,326.7 597.84,324.78 599.23,322.85 600.62,320.93 602.01,319 603.4,317.07 604.79,315.13 606.18,313.2 607.57,311.26 608.96,309.32 610.35,307.38 611.74,305.44 613.13,303.49 614.52,301.54 615.91,299.59 617.3,297.64 618.69,295.68 620.08,293.73 621.47,291.77 622.86,289.81 624.25,287.85 625.64,285.88 627.03,283.91 628.42,281.94 629.81,279.97 631.2,278 632.59,276.02 633.98,274.05 635.37,272.07 636.76,270.08 638.15,268.1 639.54,266.11 640.93,264.13 642.32,262.14 643.71,260.14 645.1,258.15 646.49,256.15 647.88,254.15 649.27,252.15 650.66,250.15 652.05,248.15 653.44,246.14 654.83,244.13 656.22,242.12 657.61,240.11 658.99,238.09 660.38,236.07 661.77,234.06 663.16,232.03 664.55,230.01 665.94,227.99 667.33,225.96 668.72,223.93 670.11,221.9 671.5,219.86 672.89,217.83 674.28,215.79 675.67,213.75 677.06,211.71 678.45,209.67 679.84,207.62 681.23,205.57 682.62,203.52 684.01,201.47 685.4,199.42 686.79,197.36 688.18,195.3 689.57,193.24 690.96,191.18 692.35,189.12 693.74,187.05 695.13,184.98 696.52,182.91 697.91,180.84 699.3,178.77 700.69,176.69 702.08,174.62 703.47,172.54 704.86,170.45 706.25,168.37 707.64,166.28 709.03,164.2 710.42,162.11 711.81,160.01 713.2,157.92 714.59,155.83 715.98,153.73 717.37,151.63 718.76,149.53 720.15,147.42 721.54,145.32 722.93,143.21 724.32,141.1 725.71,138.99 727.1,136.88 728.49,134.76 729.88,132.64 731.27,130.52 732.66,128.4 734.05,126.28 735.44,124.15 736.83,122.03 738.22,119.9 739.61,117.77 741,115.63 742.39,113.5 743.78,111.36 745.17,109.22 746.56,107.08 747.95,104.94 749.34,102.8 750.73,100.65 752.12,98.5 753.51,96.35 754.9,94.2 756.29,92.04 757.68,89.89 759.07,87.73 760.46,85.57 761.85,83.41 763.24,81.25 764.63,79.08 766.02,76.91 767.41,74.74 768.8,72.57 770.19,70.4 771.58,68.22 772.97,66.05 774.36,63.87 775.75,61.69 777.14,59.5 778.53,57.32 779.91,55.13 781.3,52.94 782.69,50.75 784.08,48.56 785.47,46.37 786.86,44.17 788.25,41.97 789.64,39.77 791.03,37.57 792.42,35.37 793.81,33.16 795.2,30.96 796.59,28.75 797.98,26.54 799.37,24.32 800.76,22.11 802.15,19.89 803.54,17.67 804.93,15.45 806.32,13.23 807.71,11.01 809.1,8.78 810.49,6.55 811.88,4.32 813.27,2.09 814.66,-0.14 816.05,-2.38 817.44,-4.61 818.83,-6.85 820.22,-9.09 821.61,-11.33 823,-13.58 824.39,-15.83 825.78,-18.07 827.17,-20.32 828.56,-22.58 829.95,-24.83 831.34,-27.08 832.73,-29.34 834.12,-31.6 835.51,-33.86 836.9,-36.12 838.29,-38.39 839.68,-40.65 841.07,-42.92 842.46,-45.19 843.85,-47.46 845.24,-49.74 846.63,-52.01 848.02,-54.29 849.41,-56.57 850.8,-58.85 852.19,-61.13 853.58,-63.42 854.97,-65.7 856.36,-67.99 857.75,-70.28 859.14,-72.57 860.53,-74.87 861.92,-77.16 863.31,-79.46 864.7,-81.76 866.09,-84.06 867.48,-86.36 868.87,-88.67 870.26,-90.97 871.65,-93.28 873.04,-95.59 874.43,-97.9 875.82,-100.21 877.21,-102.53 878.6,-104.85 879.99,-107.16 881.38,-109.49 882.77,-111.81 884.16,-114.13 885.55,-116.46 886.94,-118.78 888.33,-121.11 889.72,-123.44 891.11,-125.78 892.5,-128.11 893.89,-130.45 895.28,-132.79 896.67,-135.13 898.06,-137.47 899.44,-139.81 900.83,-142.16 902.22,-144.5 903.61,-146.85 905,-149.2 906.39,-151.55 907.78,-153.91 909.17,-156.26 910.56,-158.62 911.95,-160.98 913.34,-163.34 914.73,-165.7 916.12,-168.07 917.51,-170.43 918.9,-172.8 920.29,-175.17 921.68,-177.54 923.07,-179.92 924.46,-182.29 925.85,-184.67 927.24,-187.05 928.63,-189.43 930.02,-191.81 931.41,-194.19 932.8,-196.58 934.19,-198.96 935.58,-201.35 936.97,-203.74 938.36,-206.14 939.75,-208.53 941.14,-210.92 942.53,-213.32 943.92,-215.72 945.31,-218.12 946.7,-220.52 948.09,-222.93 949.48,-225.33 950.87,-227.74 952.26,-230.15 953.65,-232.56 955.04,-234.97 956.43,-237.39 957.82,-239.81 959.21,-242.22 960.6,-244.64 961.99,-247.06 963.38,-249.49 964.77,-251.91 966.16,-254.34 967.55,-256.77 968.94,-259.2 970.33,-261.63 971.72,-264.06 973.11,-266.5 974.5,-268.93 975.89,-271.37 977.28,-273.81 978.67,-276.25 980.06,-278.69 981.45,-281.14 982.84,-283.59 984.23,-286.03 985.62,-288.48 987.01,-290.94 988.4,-293.39 989.79,-295.85 991.18,-298.3 992.57,-300.76 993.96,-303.22 995.35,-305.68 996.74,-308.15 998.13,-310.61 999.52,-313.08 1000.91,-315.55 1002.3,-318.02 1003.69,-320.49 1005.08,-322.96 1006.47,-325.44 1007.86,-327.91 1009.25,-330.39 1010.64,-332.87 1012.03,-335.35 1013.42,-337.84 1014.81,-340.32 1016.2,-342.81 1017.59,-345.3 1018.97,-347.79 1020.36,-350.28 1021.75,-352.77 1023.14,-355.27 1024.53,-357.76 1025.92,-360.26 1027.31,-362.76 1028.7,-365.26 1030.09,-367.77 1031.48,-370.27 1032.87,-372.78 1034.26,-375.29 1035.65,-377.8 1037.04,-380.31 1038.43,-382.82 1039.82,-385.34 1041.21,-387.85 1042.6,-390.37 1043.99,-392.89 1045.38,-395.41 1046.77,-397.93 1048.16,-400.46 1049.55,-402.98 1050.94,-405.51 1052.33,-408.04 1053.72,-410.57 1053.72,1000 -100,1000" fill="rgb(206,84,90)"/>
</g>
<g clip-path="url(#hz)">
<rect x="0" y="0" width="1057" height="947" fill="rgb(164,200,222)"/>
<polygon points="82.19,855.41 83.58,854.64 84.97,853.87 86.36,853.09 87.75,852.3 89.14,851.51 90.53,850.72 91.92,849.91 93.31,849.11 94.7,848.3 96.09,847.48 97.48,846.66 98.87,845.83 100.26,844.99 101.65,844.16 103.04,843.31 104.43,842.46 105.82,841.61 107.21,840.75 108.6,839.89 109.99,839.02 111.38,838.15 112.77,837.27 114.16,836.39 115.55,835.5 116.94,834.61 118.33,833.71 119.72,832.81 121.11,831.9 122.5,830.99 123.89,830.08 125.28,829.16 126.67,828.23 128.06,827.3 129.45,826.37 130.84,825.43 132.23,824.49 133.62,823.54 135.01,822.59 136.4,821.63 137.79,820.67 139.18,819.7 140.57,818.73 141.96,817.76 143.35,816.78 144.74,815.8 146.13,814.81 147.52,813.82 148.91,812.82 150.3,811.82 151.69,810.82 153.08,809.81 154.47,808.8 155.86,807.78 157.25,806.76 158.64,805.74 160.03,804.71 161.42,803.67 162.81,802.64 164.2,801.59 165.59,800.55 166.98,799.5 168.37,798.45 169.76,797.39 171.15,796.33 172.54,795.26 173.93,794.19 175.32,793.12 176.71,792.04 178.09,790.96 179.48,789.88 180.87,788.79 182.26,787.69 183.65,786.6 185.04,785.5 186.43,784.39 187.82,783.28 189.21,782.17 190.6,781.05 191.99,779.94 193.38,778.81 194.77,777.68 196.16,776.55 197.55,775.42 198.94,774.28 200.33,773.14 201.72,771.99 203.11,770.84 204.5,769.69 205.89,768.53 207.28,767.37 208.67,766.21 210.06,765.04 211.45,763.87 212.84,762.7 214.23,761.52 215.62,760.33 217.01,759.15 218.4,757.96 219.79,756.77 221.18,755.57 222.57,754.37 223.96,753.17 225.35,751.96 226.74,750.75 228.13,749.54 229.52,748.32 230.91,747.1 232.3,745.88 233.69,744.65 235.08,743.42 236.47,742.18 237.86,740.95 239.25,739.7 240.64,738.46 242.03,737.21 243.42,735.96 244.81,734.71 246.2,733.45 247.59,732.19 248.98,730.92 250.37,729.65 251.76,728.38 253.15,727.11 254.54,725.83 255.93,724.55 257.32,723.27 258.71,721.98 260.1,720.69 261.49,719.39 262.88,718.09 264.27,716.79 265.66,715.49 267.05,714.18 268.44,712.87 269.83,711.56 271.22,710.24 272.61,708.92 274,707.6 275.39,706.27 276.78,704.94 278.17,703.61 279.56,702.28 280.95,700.94 282.34,699.59 283.73,698.25 285.12,696.9 286.51,695.55 287.9,694.2 289.29,692.84 290.68,691.48 292.07,690.11 293.46,688.75 294.85,687.38 296.24,686 297.63,684.63 299.01,683.25 300.4,681.87 301.79,680.48 303.18,679.09 304.57,677.7 305.96,676.31 307.35,674.91 308.74,673.51 310.13,672.11 311.52,670.7 312.91,669.29 314.3,667.88 315.69,666.47 317.08,665.05 318.47,663.63 319.86,662.2 321.25,660.78 322.64,659.35 324.03,657.91 325.42,656.48 326.81,655.04 328.2,653.6 329.59,652.15 330.98,650.71 332.37,649.26 333.76,647.8 335.15,646.35 336.54,644.89 337.93,643.43 339.32,641.96 340.71,640.49 342.1,639.02 343.49,637.55 344.88,636.08 346.27,634.6 347.66,633.11 349.05,631.63 350.44,630.14 351.83,628.65 353.22,627.16 354.61,625.66 356,624.17 357.39,622.66 358.78,621.16 360.17,619.65 361.56,618.14 362.95,616.63 364.34,615.12 365.73,613.6 367.12,612.08 368.51,610.56 369.9,609.03 371.29,607.5 372.68,605.97 374.07,604.43 375.46,602.9 376.85,601.36 378.24,599.82 379.63,598.27 381.02,596.72 382.41,595.17 383.8,593.62 385.19,592.06 386.58,590.5 387.97,588.94 389.36,587.38 390.75,585.81 392.14,584.24 393.53,582.67 394.92,581.1 396.31,579.52 397.7,577.94 399.09,576.36 400.48,574.77 401.87,573.18 403.26,571.59 404.65,570 406.04,568.4 407.43,566.81 408.82,565.2 410.21,563.6 411.6,562 412.99,560.39 414.38,558.78 415.77,557.16 417.16,555.54 418.54,553.93 419.93,552.3 421.32,550.68 422.71,549.05 424.1,547.42 425.49,545.79 426.88,544.16 428.27,542.52 429.66,540.88 431.05,539.24 432.44,537.59 433.83,535.95 435.22,534.3 436.61,532.64 438,530.99 439.39,529.33 440.78,527.67 442.17,526.01 443.56,524.35 444.95,522.68 446.34,521.01 447.73,519.34 449.12,517.66 450.51,515.98 451.9,514.3 453.29,512.62 454.68,510.94 456.07,509.25 457.46,507.56 458.85,505.87 460.24,504.17 461.63,502.48 463.02,500.78 464.41,499.07 465.8,497.37 467.19,495.66 468.58,493.95 469.97,492.24 471.36,490.53 472.75,488.81 474.14,487.09 475.53,485.37 476.92,483.65 478.31,481.92 479.7,480.19 481.09,478.46 482.48,476.73 483.87,474.99 485.26,473.25 486.65,471.51 488.04,469.77 489.43,468.02 490.82,466.28 492.21,464.53 493.6,462.77 494.99,461.02 496.38,459.26 497.77,457.5 499.16,455.74 500.55,453.97 501.94,452.21 503.33,450.44 504.72,448.67 506.11,446.89 507.5,445.12 508.89,443.34 510.28,441.56 511.67,439.77 513.06,437.99 514.45,436.2 515.84,434.41 517.23,432.62 518.62,430.82 520.01,429.03 521.4,427.23 522.79,425.43 524.18,423.62 525.57,421.81 526.96,420.01 528.35,418.19 529.74,416.38 531.13,414.57 532.52,412.75 533.91,410.93 535.3,409.11 536.69,407.28 538.08,405.45 539.46,403.62 540.85,401.79 542.24,399.96 543.63,398.12 545.02,396.28 546.41,394.44 547.8,392.6 549.19,390.76 550.58,388.91 551.97,387.06 553.36,385.21 554.75,383.35 556.14,381.5 557.53,379.64 558.92,377.78 560.31,375.91 561.7,374.05 563.09,372.18 564.48,370.31 565.87,368.44 567.26,366.57 568.65,364.69 570.04,362.81 571.43,360.93 572.82,359.05 574.21,357.16 575.6,355.27 576.99,353.38 578.38,351.49 579.77,349.6 581.16,347.7 582.55,345.8 583.94,343.9 585.33,342 586.72,340.09 588.11,338.19 589.5,336.28 590.89,334.37 592.28,332.45 593.67,330.54 595.06,328.62 596.45,326.7 597.84,324.78 599.23,322.85 600.62,320.93 602.01,319 603.4,317.07 604.79,315.13 606.18,313.2 607.57,311.26 608.96,309.32 610.35,307.38 611.74,305.44 613.13,303.49 614.52,301.54 615.91,299.59 617.3,297.64 618.69,295.68 620.08,293.73 621.47,291.77 622.86,289.81 624.25,287.85 625.64,285.88 627.03,283.91 628.42,281.94 629.81,279.97 631.2,278 632.59,276.02 633.98,274.05 635.37,272.07 636.76,270.08 638.15,268.1 639.54,266.11 640.93,264.13 642.32,262.14 643.71,260.14 645.1,258.15 646.49,256.15 647.88,254.15 649.27,252.15 650.66,250.15 652.05,248.15 653.44,246.14 654.83,244.13 656.22,242.12 657.61,240.11 658.99,238.09 660.38,236.07 661.77,234.06 663.16,232.03 664.55,230.01 665.94,227.99 667.33,225.96 668.72,223.93 670.11,221.9 671.5,219.86 672.89,217.83 674.28,215.79 675.67,213.75 677.06,211.71 678.45,209.67 679.84,207.62 681.23,205.57 682.62,203.52 684.01,201.47 685.4,199.42 686.79,197.36 688.18,195.3 689.57,193.24 690.96,191.18 692.35,189.12 693.74,187.05 695.13,184.98 696.52,182.91 697.91,180.84 699.3,178.77 700.69,176.69 702.08,174.62 703.47,172.54 704.86,170.45 706.25,168.37 707.64,166.28 709.03,164.2 710.42,162.11 711.81,160.01 713.2,157.92 714.59,155.83 715.98,153.73 717.37,151.63 718.76,149.53 720.15,147.42 721.54,145.32 722.93,143.21 724.32,141.1 725.71,138.99 727.1,136.88 728.49,134.76 729.88,132.64 731.27,130.52 732.66,128.4 734.05,126.28 735.44,124.15 736.83,122.03 738.22,119.9 739.61,117.77 741,115.63 742.39,113.5 743.78,111.36 745.17,109.22 746.56,107.08 747.95,104.94 749.34,102.8 750.73,100.65 752.12,98.5 753.51,96.35 754.9,94.2 756.29,92.04 757.68,89.89 759.07,87.73 760.46,85.57 761.85,83.41 763.24,81.25 764.63,79.08 766.02,76.91 767.41,74.74 768.8,72.57 770.19,70.4 771.58,68.22 772.97,66.05 774.36,63.87 775.75,61.69 777.14,59.5 778.53,57.32 779.91,55.13 781.3,52.94 782.69,50.75 784.08,48.56 785.47,46.37 786.86,44.17 788.25,41.97 789.64,39.77 791.03,37.57 792.42,35.37 793.81,33.16 795.2,30.96 796.59,28.75 797.98,26.54 799.37,24.32 800.76,22.11 802.15,19.89 803.54,17.67 804.93,15.45 806.32,13.23 807.71,11.01 809.1,8.78 810.49,6.55 811.88,4.32 813.27,2.09 814.66,-0.14 816.05,-2.38 817.44,-4.61 818.83,-6.85 820.22,-9.09 821.61,-11.33 823,-13.58 824.39,-15.83 825.78,-18.07 827.17,-20.32 828.56,-22.58 829.95,-24.83 831.34,-27.08 832.73,-29.34 834.12,-31.6 835.51,-33.86 836.9,-36.12 838.29,-38.39 839.68,-40.65 841.07,-42.92 842.46,-45.19 843.85,-47.46 845.24,-49.74 846.63,-52.01 848.02,-54.29 849.41,-56.57 850.8,-58.85 852.19,-61.13 853.58,-63.42 854.97,-65.7 856.36,-67.99 857.75,-70.28 859.14,-72.57 860.53,-74.87 861.92,-77.16 863.31,-79.46 864.7,-81.76 866.09,-84.06 867.48,-86.36 868.87,-88.67 870.26,-90.97 871.65,-93.28 873.04,-95.59 874.43,-97.9 875.82,-100.21 877.21,-102.53 878.6,-104.85 879.99,-107.16 881.38,-109.49 882.77,-111.81 884.16,-114.13 885.55,-116.46 886.94,-118.78 888.33,-121.11 889.72,-123.44 891.11,-125.78 892.5,-128.11 893.89,-130.45 895.28,-132.79 896.67,-135.13 898.06,-137.47 899.44,-139.81 900.83,-142.16 902.22,-144.5 903.61,-146.85 905,-149.2 906.39,-151.55 907.78,-153.91 909.17,-156.26 910.56,-158.62 911.95,-160.98 913.34,-163.34 914.73,-165.7 916.12,-168.07 917.51,-170.43 918.9,-172.8 920.29,-175.17 921.68,-177.54 923.07,-179.92 924.46,-182.29 925.85,-184.67 927.24,-187.05 928.63,-189.43 930.02,-191.81 931.41,-194.19 932.8,-196.58 934.19,-198.96 935.58,-201.35 936.97,-203.74 938.36,-206.14 939.75,-208.53 941.14,-210.92 942.53,-213.32 943.92,-215.72 945.31,-218.12 946.7,-220.52 948.09,-222.93 949.48,-225.33 950.87,-227.74 952.26,-230.15 953.65,-232.56 955.04,-234.97 956.43,-237.39 957.82,-239.81 959.21,-242.22 960.6,-244.64 961.99,-247.06 963.38,-249.49 964.77,-251.91 966.16,-254.34 967.55,-256.77 968.94,-259.2 970.33,-261.63 971.72,-264.06 973.11,-266.5 974.5,-268.93 975.89,-271.37 977.28,-273.81 978.67,-276.25 980.06,-278.69 981.45,-281.14 982.84,-283.59 984.23,-286.03 985.62,-288.48 987.01,-290.94 988.4,-293.39 989.79,-295.85 991.18,-298.3 992.57,-300.76 993.96,-303.22 995.35,-305.68 996.74,-308.15 998.13,-310.61 999.52,-313.08 1000.91,-315.55 1002.3,-318.02 1003.69,-320.49 1005.08,-322.96 1006.47,-325.44 1007.86,-327.91 1009.25,-330.39 1010.64,-332.87 1012.03,-335.35 1013.42,-337.84 1014.81,-340.32 1016.2,-342.81 1017.59,-345.3 1018.97,-347.79 1020.36,-350.28 1021.75,-352.77 1023.14,-355.27 1024.53,-357.76 1025.92,-360.26 1027.31,-362.76 1028.7,-365.26 1030.09,-367.77 1031.48,-370.27 1032.87,-372.78 1034.26,-375.29 1035.65,-377.8 1037.04,-380.31 1038.43,-382.82 1039.82,-385.34 1041.21,-387.85 1042.6,-390.37 1043.99,-392.89 1045.38,-395.41 1046.77,-397.93 1048.16,-400.46 1049.55,-402.98 1050.94,-405.51 1052.33,-408.04 1053.72,-410.57 1053.72,1000 -100,1000" fill="rgb(229,159,164)"/>
<g clip-path="url(#band)">
<rect x="0" y="0" width="1057" height="947" fill="rgb(155,191,213)"/>
<polygon points="82.19,855.41 83.58,854.64 84.97,853.87 86.36,853.09 87.75,852.3 89.14,851.51 90.53,850.72 91.92,849.91 93.31,849.11 94.7,848.3 96.09,847.48 97.48,846.66 98.87,845.83 100.26,844.99 101.65,844.16 103.04,843.31 104.43,842.46 105.82,841.61 107.21,840.75 108.6,839.89 109.99,839.02 111.38,838.15 112.77,837.27 114.16,836.39 115.55,835.5 116.94,834.61 118.33,833.71 119.72,832.81 121.11,831.9 122.5,830.99 123.89,830.08 125.28,829.16 126.67,828.23 128.06,827.3 129.45,826.37 130.84,825.43 132.23,824.49 133.62,823.54 135.01,822.59 136.4,821.63 137.79,820.67 139.18,819.7 140.57,818.73 141.96,817.76 143.35,816.78 144.74,815.8 146.13,814.81 147.52,813.82 148.91,812.82 150.3,811.82 151.69,810.82 153.08,809.81 154.47,808.8 155.86,807.78 157.25,806.76 158.64,805.74 160.03,804.71 161.42,803.67 162.81,802.64 164.2,801.59 165.59,800.55 166.98,799.5 168.37,798.45 169.76,797.39 171.15,796.33 172.54,795.26 173.93,794.19 175.32,793.12 176.71,792.04 178.09,790.96 179.48,789.88 180.87,788.79 182.26,787.69 183.65,786.6 185.04,785.5 186.43,784.39 187.82,783.28 189.21,782.17 190.6,781.05 191.99,779.94 193.38,778.81 194.77,777.68 196.16,776.55 197.55,775.42 198.94,774.28 200.33,773.14 201.72,771.99 203.11,770.84 204.5,769.69 205.89,768.53 207.28,767.37 208.67,766.21 210.06,765.04 211.45,763.87 212.84,762.7 214.23,761.52 215.62,760.33 217.01,759.15 218.4,757.96 219.79,756.77 221.18,755.57 222.57,754.37 223.96,753.17 225.35,751.96 226.74,750.75 228.13,749.54 229.52,748.32 230.91,747.1 232.3,745.88 233.69,744.65 235.08,743.42 236.47,742.18 237.86,740.95 239.25,739.7 240.64,738.46 242.03,737.21 243.42,735.96 244.81,734.71 246.2,733.45 247.59,732.19 248.98,730.92 250.37,729.65 251.76,728.38 253.15,727.11 254.54,725.83 255.93,724.55 257.32,723.27 258.71,721.98 260.1,720.69 261.49,719.39 262.88,718.09 264.27,716.79 265.66,715.49 267.05,714.18 268.44,712.87 269.83,711.56 271.22,710.24 272.61,708.92 274,707.6 275.39,706.27 276.78,704.94 278.17,703.61 279.56,702.28 280.95,700.94 282.34,699.59 283.73,698.25 285.12,696.9 286.51,695.55 287.9,694.2 289.29,692.84 290.68,691.48 292.07,690.11 293.46,688.75 294.85,687.38 296.24,686 297.63,684.63 299.01,683.25 300.4,681.87 301.79,680.48 303.18,679.09 304.57,677.7 305.96,676.31 307.35,674.91 308.74,673.51 310.13,672.11 311.52,670.7 312.91,669.29 314.3,667.88 315.69,666.47 317.08,665.05 318.47,663.63 319.86,662.2 321.25,660.78 322.64,659.35 324.03,657.91 325.42,656.48 326.81,655.04 328.2,653.6 329.59,652.15 330.98,650.71 332.37,649.26 333.76,647.8 335.15,646.35 336.54,644.89 337.93,643.43 339.32,641.96 340.71,640.49 342.1,639.02 343.49,637.55 344.88,636.08 346.27,634.6 347.66,633.11 349.05,631.63 350.44,630.14 351.83,628.65 353.22,627.16 354.61,625.66 356,624.17 357.39,622.66 358.78,621.16 360.17,619.65 361.56,618.14 362.95,616.63 364.34,615.12 365.73,613.6 367.12,612.08 368.51,610.56 369.9,609.03 371.29,607.5 372.68,605.97 374.07,604.43 375.46,602.9 376.85,601.36 378.24,599.82 379.63,598.27 381.02,596.72 382.41,595.17 383.8,593.62 385.19,592.06 386.58,590.5 387.97,588.94 389.36,587.38 390.75,585.81 392.14,584.24 393.53,582.67 394.92,581.1 396.31,579.52 397.7,577.94 399.09,576.36 400.48,574.77 401.87,573.18 403.26,571.59 404.65,570 406.04,568.4 407.43,566.81 408.82,565.2 410.21,563.6 411.6,562 412.99,560.39 414.38,558.78 415.77,557.16 417.16,555.54 418.54,553.93 419.93,552.3 421.32,550.68 422.71,549.05 424.1,547.42 425.49,545.79 426.88,544.16 428.27,542.52 429.66,540.88 431.05,539.24 432.44,537.59 433.83,535.95 435.22,534.3 436.61,532.64 438,530.99 439.39,529.33 440.78,527.67 442.17,526.01 443.56,524.35 444.95,522.68 446.34,521.01 447.73,519.34 449.12,517.66 450.51,515.98 451.9,514.3 453.29,512.62 454.68,510.94 456.07,509.25 457.46,507.56 458.85,505.87 460.24,504.17 461.63,502.48 463.02,500.78 464.41,499.07 465.8,497.37 467.19,495.66 468.58,493.95 469.97,492.24 471.36,490.53 472.75,488.81 474.14,487.09 475.53,485.37 476.92,483.65 478.31,481.92 479.7,480.19 481.09,478.46 482.48,476.73 483.87,474.99 485.26,473.25 486.65,471.51 488.04,469.77 489.43,468.02 490.82,466.28 492.21,464.53 493.6,462.77 494.99,461.02 496.38,459.26 497.77,457.5 499.16,455.74 500.55,453.97 501.94,452.21 503.33,450.44 504.72,448.67 506.11,446.89 507.5,445.12 508.89,443.34 510.28,441.56 511.67,439.77 513.06,437.99 514.45,436.2 515.84,434.41 517.23,432.62 518.62,430.82 520.01,429.03 521.4,427.23 522.79,425.43 524.18,423.62 525.57,421.81 526.96,420.01 528.35,418.19 529.74,416.38 531.13,414.57 532.52,412.75 533.91,410.93 535.3,409.11 536.69,407.28 538.08,405.45 539.46,403.62 540.85,401.79 542.24,399.96 543.63,398.12 545.02,396.28 546.41,394.44 547.8,392.6 549.19,390.76 550.58,388.91 551.97,387.06 553.36,385.21 554.75,383.35 556.14,381.5 557.53,379.64 558.92,377.78 560.31,375.91 561.7,374.05 563.09,372.18 564.48,370.31 565.87,368.44 567.26,366.57 568.65,364.69 570.04,362.81 571.43,360.93 572.82,359.05 574.21,357.16 575.6,355.27 576.99,353.38 578.38,351.49 579.77,349.6 581.16,347.7 582.55,345.8 583.94,343.9 585.33,342 586.72,340.09 588.11,338.19 589.5,336.28 590.89,334.37 592.28,332.45 593.67,330.54 595.06,328.62 596.45,326.7 597.84,324.78 599.23,322.85 600.62,320.93 602.01,319 603.4,317.07 604.79,315.13 606.18,313.2 607.57,311.26 608.96,309.32 610.35,307.38 611.74,305.44 613.13,303.49 614.52,301.54 615.91,299.59 617.3,297.64 618.69,295.68 620.08,293.73 621.47,291.77 622.86,289.81 624.25,287.85 625.64,285.88 627.03,283.91 628.42,281.94 629.81,279.97 631.2,278 632.59,276.02 633.98,274.05 635.37,272.07 636.76,270.08 638.15,268.1 639.54,266.11 640.93,264.13 642.32,262.14 643.71,260.14 645.1,258.15 646.49,256.15 647.88,254.15 649.27,252.15 650.66,250.15 652.05,248.15 653.44,246.14 654.83,244.13 656.22,242.12 657.61,240.11 658.99,238.09 660.38,236.07 661.77,234.06 663.16,232.03 664.55,230.01 665.94,227.99 667.33,225.96 668.72,223.93 670.11,221.9 671.5,219.86 672.89,217.83 674.28,215.79 675.67,213.75 677.06,211.71 678.45,209.67 679.84,207.62 681.23,205.57 682.62,203.52 684.01,201.47 685.4,199.42 686.79,197.36 688.18,195.3 689.57,193.24 690.96,191.18 692.35,189.12 693.74,187.05 695.13,184.98 696.52,182.91 697.91,180.84 699.3,178.77 700.69,176.69 702.08,174.62 703.47,172.54 704.86,170.45 706.25,168.37 707.64,166.28 709.03,164.2 710.42,162.11 711.81,160.01 713.2,157.92 714.59,155.83 715.98,153.73 717.37,151.63 718.76,149.53 720.15,147.42 721.54,145.32 722.93,143.21 724.32,141.1 725.71,138.99 727.1,136.88 728.49,134.76 729.88,132.64 731.27,130.52 732.66,128.4 734.05,126.28 735.44,124.15 736.83,122.03 738.22,119.9 739.61,117.77 741,115.63 742.39,113.5 743.78,111.36 745.17,109.22 746.56,107.08 747.95,104.94 749.34,102.8 750.73,100.65 752.12,98.5 753.51,96.35 754.9,94.2 756.29,92.04 757.68,89.89 759.07,87.73 760.46,85.57 761.85,83.41 763.24,81.25 764.63,79.08 766.02,76.91 767.41,74.74 768.8,72.57 770.19,70.4 771.58,68.22 772.97,66.05 774.36,63.87 775.75,61.69 777.14,59.5 778.53,57.32 779.91,55.13 781.3,52.94 782.69,50.75 784.08,48.56 785.47,46.37 786.86,44.17 788.25,41.97 789.64,39.77 791.03,37.57 792.42,35.37 793.81,33.16 795.2,30.96 796.59,28.75 797.98,26.54 799.37,24.32 800.76,22.11 802.15,19.89 803.54,17.67 804.93,15.45 806.32,13.23 807.71,11.01 809.1,8.78 810.49,6.55 811.88,4.32 813.27,2.09 814.66,-0.14 816.05,-2.38 817.44,-4.61 818.83,-6.85 820.22,-9.09 821.61,-11.33 823,-13.58 824.39,-15.83 825.78,-18.07 827.17,-20.32 828.56,-22.58 829.95,-24.83 831.34,-27.08 832.73,-29.34 834.12,-31.6 835.51,-33.86 836.9,-36.12 838.29,-38.39 839.68,-40.65 841.07,-42.92 842.46,-45.19 843.85,-47.46 845.24,-49.74 846.63,-52.01 848.02,-54.29 849.41,-56.57 850.8,-58.85 852.19,-61.13 853.58,-63.42 854.97,-65.7 856.36,-67.99 857.75,-70.28 859.14,-72.57 860.53,-74.87 861.92,-77.16 863.31,-79.46 864.7,-81.76 866.09,-84.06 867.48,-86.36 868.87,-88.67 870.26,-90.97 871.65,-93.28 873.04,-95.59 874.43,-97.9 875.82,-100.21 877.21,-102.53 878.6,-104.85 879.99,-107.16 881.38,-109.49 882.77,-111.81 884.16,-114.13 885.55,-116.46 886.94,-118.78 888.33,-121.11 889.72,-123.44 891.11,-125.78 892.5,-128.11 893.89,-130.45 895.28,-132.79 896.67,-135.13 898.06,-137.47 899.44,-139.81 900.83,-142.16 902.22,-144.5 903.61,-146.85 905,-149.2 906.39,-151.55 907.78,-153.91 909.17,-156.26 910.56,-158.62 911.95,-160.98 913.34,-163.34 914.73,-165.7 916.12,-168.07 917.51,-170.43 918.9,-172.8 920.29,-175.17 921.68,-177.54 923.07,-179.92 924.46,-182.29 925.85,-184.67 927.24,-187.05 928.63,-189.43 930.02,-191.81 931.41,-194.19 932.8,-196.58 934.19,-198.96 935.58,-201.35 936.97,-203.74 938.36,-206.14 939.75,-208.53 941.14,-210.92 942.53,-213.32 943.92,-215.72 945.31,-218.12 946.7,-220.52 948.09,-222.93 949.48,-225.33 950.87,-227.74 952.26,-230.15 953.65,-232.56 955.04,-234.97 956.43,-237.39 957.82,-239.81 959.21,-242.22 960.6,-244.64 961.99,-247.06 963.38,-249.49 964.77,-251.91 966.16,-254.34 967.55,-256.77 968.94,-259.2 970.33,-261.63 971.72,-264.06 973.11,-266.5 974.5,-268.93 975.89,-271.37 977.28,-273.81 978.67,-276.25 980.06,-278.69 981.45,-281.14 982.84,-283.59 984.23,-286.03 985.62,-288.48 987.01,-290.94 988.4,-293.39 989.79,-295.85 991.18,-298.3 992.57,-300.76 993.96,-303.22 995.35,-305.68 996.74,-308.15 998.13,-310.61 999.52,-313.08 1000.91,-315.55 1002.3,-318.02 1003.69,-320.49 1005.08,-322.96 1006.47,-325.44 1007.86,-327.91 1009.25,-330.39 1010.64,-332.87 1012.03,-335.35 1013.42,-337.84 1014.81,-340.32 1016.2,-342.81 1017.59,-345.3 1018.97,-347.79 1020.36,-350.28 1021.75,-352.77 1023.14,-355.27 1024.53,-357.76 1025.92,-360.26 1027.31,-362.76 1028.7,-365.26 1030.09,-367.77 1031.48,-370.27 1032.87,-372.78 1034.26,-375.29 1035.65,-377.8 1037.04,-380.31 1038.43,-382.82 1039.82,-385.34 1041.21,-387.85 1042.6,-390.37 1043.99,-392.89 1045.38,-395.41 1046.77,-397.93 1048.16,-400.46 1049.55,-402.98 1050.94,-405.51 1052.33,-408.04 1053.72,-410.57 1053.72,1000 -100,1000" fill="rgb(220,150,155)"/>
</g>
</g>
<line x1="0" x2="1057" y1="667.8" y2="667.8" stroke="#000" stroke-opacity="0.05" stroke-width="1.3"/>
<line x1="0" x2="1057" y1="667.8" y2="667.8" stroke="#000" stroke-opacity="0.06" stroke-width="1.3" clip-path="url(#sz)"/>
<line x1="0" x2="1057" y1="826.62" y2="826.62" stroke="#000" stroke-opacity="0.05" stroke-width="1.3"/>
<line x1="0" x2="1057" y1="826.62" y2="826.62" stroke="#000" stroke-opacity="0.06" stroke-width="1.3" clip-path="url(#sz)"/>
<polyline points="82.19,855.41 83.58,854.64 84.97,853.87 86.36,853.09 87.75,852.3 89.14,851.51 90.53,850.72 91.92,849.91 93.31,849.11 94.7,848.3 96.09,847.48 97.48,846.66 98.87,845.83 100.26,844.99 101.65,844.16 103.04,843.31 104.43,842.46 105.82,841.61 107.21,840.75 108.6,839.89 109.99,839.02 111.38,838.15 112.77,837.27 114.16,836.39 115.55,835.5 116.94,834.61 118.33,833.71 119.72,832.81 121.11,831.9 122.5,830.99 123.89,830.08 125.28,829.16 126.67,828.23 128.06,827.3 129.45,826.37 130.84,825.43 132.23,824.49 133.62,823.54 135.01,822.59 136.4,821.63 137.79,820.67 139.18,819.7 140.57,818.73 141.96,817.76 143.35,816.78 144.74,815.8 146.13,814.81 147.52,813.82 148.91,812.82 150.3,811.82 151.69,810.82 153.08,809.81 154.47,808.8 155.86,807.78 157.25,806.76 158.64,805.74 160.03,804.71 161.42,803.67 162.81,802.64 164.2,801.59 165.59,800.55 166.98,799.5 168.37,798.45 169.76,797.39 171.15,796.33 172.54,795.26 173.93,794.19 175.32,793.12 176.71,792.04 178.09,790.96 179.48,789.88 180.87,788.79 182.26,787.69 183.65,786.6 185.04,785.5 186.43,784.39 187.82,783.28 189.21,782.17 190.6,781.05 191.99,779.94 193.38,778.81 194.77,777.68 196.16,776.55 197.55,775.42 198.94,774.28 200.33,773.14 201.72,771.99 203.11,770.84 204.5,769.69 205.89,768.53 207.28,767.37 208.67,766.21 210.06,765.04 211.45,763.87 212.84,762.7 214.23,761.52 215.62,760.33 217.01,759.15 218.4,757.96 219.79,756.77 221.18,755.57 222.57,754.37 223.96,753.17 225.35,751.96 226.74,750.75 228.13,749.54 229.52,748.32 230.91,747.1 232.3,745.88 233.69,744.65 235.08,743.42 236.47,742.18 237.86,740.95 239.25,739.7 240.64,738.46 242.03,737.21 243.42,735.96 244.81,734.71 246.2,733.45 247.59,732.19 248.98,730.92 250.37,729.65 251.76,728.38 253.15,727.11 254.54,725.83 255.93,724.55 257.32,723.27 258.71,721.98 260.1,720.69 261.49,719.39 262.88,718.09 264.27,716.79 265.66,715.49 267.05,714.18 268.44,712.87 269.83,711.56 271.22,710.24 272.61,708.92 274,707.6 275.39,706.27 276.78,704.94 278.17,703.61 279.56,702.28 280.95,700.94 282.34,699.59 283.73,698.25 285.12,696.9 286.51,695.55 287.9,694.2 289.29,692.84 290.68,691.48 292.07,690.11 293.46,688.75 294.85,687.38 296.24,686 297.63,684.63 299.01,683.25 300.4,681.87 301.79,680.48 303.18,679.09 304.57,677.7 305.96,676.31 307.35,674.91 308.74,673.51 310.13,672.11 311.52,670.7 312.91,669.29 314.3,667.88 315.69,666.47 317.08,665.05 318.47,663.63 319.86,662.2 321.25,660.78 322.64,659.35 324.03,657.91 325.42,656.48 326.81,655.04 328.2,653.6 329.59,652.15 330.98,650.71 332.37,649.26 333.76,647.8 335.15,646.35 336.54,644.89 337.93,643.43 339.32,641.96 340.71,640.49 342.1,639.02 343.49,637.55 344.88,636.08 346.27,634.6 347.66,633.11 349.05,631.63 350.44,630.14 351.83,628.65 353.22,627.16 354.61,625.66 356,624.17 357.39,622.66 358.78,621.16 360.17,619.65 361.56,618.14 362.95,616.63 364.34,615.12 365.73,613.6 367.12,612.08 368.51,610.56 369.9,609.03 371.29,607.5 372.68,605.97 374.07,604.43 375.46,602.9 376.85,601.36 378.24,599.82 379.63,598.27 381.02,596.72 382.41,595.17 383.8,593.62 385.19,592.06 386.58,590.5 387.97,588.94 389.36,587.38 390.75,585.81 392.14,584.24 393.53,582.67 394.92,581.1 396.31,579.52 397.7,577.94 399.09,576.36 400.48,574.77 401.87,573.18 403.26,571.59 404.65,570 406.04,568.4 407.43,566.81 408.82,565.2 410.21,563.6 411.6,562 412.99,560.39 414.38,558.78 415.77,557.16 417.16,555.54 418.54,553.93 419.93,552.3 421.32,550.68 422.71,549.05 424.1,547.42 425.49,545.79 426.88,544.16 428.27,542.52 429.66,540.88 431.05,539.24 432.44,537.59 433.83,535.95 435.22,534.3 436.61,532.64 438,530.99 439.39,529.33 440.78,527.67 442.17,526.01 443.56,524.35 444.95,522.68 446.34,521.01 447.73,519.34 449.12,517.66 450.51,515.98 451.9,514.3 453.29,512.62 454.68,510.94 456.07,509.25 457.46,507.56 458.85,505.87 460.24,504.17 461.63,502.48 463.02,500.78 464.41,499.07 465.8,497.37 467.19,495.66 468.58,493.95 469.97,492.24 471.36,490.53 472.75,488.81 474.14,487.09 475.53,485.37 476.92,483.65 478.31,481.92 479.7,480.19 481.09,478.46 482.48,476.73 483.87,474.99 485.26,473.25 486.65,471.51 488.04,469.77 489.43,468.02 490.82,466.28 492.21,464.53 493.6,462.77 494.99,461.02 496.38,459.26 497.77,457.5 499.16,455.74 500.55,453.97 501.94,452.21 503.33,450.44 504.72,448.67 506.11,446.89 507.5,445.12 508.89,443.34 510.28,441.56 511.67,439.77 513.06,437.99 514.45,436.2 515.84,434.41 517.23,432.62 518.62,430.82 520.01,429.03 521.4,427.23 522.79,425.43 524.18,423.62 525.57,421.81 526.96,420.01 528.35,418.19 529.74,416.38 531.13,414.57 532.52,412.75 533.91,410.93 535.3,409.11 536.69,407.28 538.08,405.45 539.46,403.62 540.85,401.79 542.24,399.96 543.63,398.12 545.02,396.28 546.41,394.44 547.8,392.6 549.19,390.76 550.58,388.91 551.97,387.06 553.36,385.21 554.75,383.35 556.14,381.5 557.53,379.64 558.92,377.78 560.31,375.91 561.7,374.05 563.09,372.18 564.48,370.31 565.87,368.44 567.26,366.57 568.65,364.69 570.04,362.81 571.43,360.93 572.82,359.05 574.21,357.16 575.6,355.27 576.99,353.38 578.38,351.49 579.77,349.6 581.16,347.7 582.55,345.8 583.94,343.9 585.33,342 586.72,340.09 588.11,338.19 589.5,336.28 590.89,334.37 592.28,332.45 593.67,330.54 595.06,328.62 596.45,326.7 597.84,324.78 599.23,322.85 600.62,320.93 602.01,319 603.4,317.07 604.79,315.13 606.18,313.2 607.57,311.26 608.96,309.32 610.35,307.38 611.74,305.44 613.13,303.49 614.52,301.54 615.91,299.59 617.3,297.64 618.69,295.68 620.08,293.73 621.47,291.77 622.86,289.81 624.25,287.85 625.64,285.88 627.03,283.91 628.42,281.94 629.81,279.97 631.2,278 632.59,276.02 633.98,274.05 635.37,272.07 636.76,270.08 638.15,268.1 639.54,266.11 640.93,264.13 642.32,262.14 643.71,260.14 645.1,258.15 646.49,256.15 647.88,254.15 649.27,252.15 650.66,250.15 652.05,248.15 653.44,246.14 654.83,244.13 656.22,242.12 657.61,240.11 658.99,238.09 660.38,236.07 661.77,234.06 663.16,232.03 664.55,230.01 665.94,227.99 667.33,225.96 668.72,223.93 670.11,221.9 671.5,219.86 672.89,217.83 674.28,215.79 675.67,213.75 677.06,211.71 678.45,209.67 679.84,207.62 681.23,205.57 682.62,203.52 684.01,201.47 685.4,199.42 686.79,197.36 688.18,195.3 689.57,193.24 690.96,191.18 692.35,189.12 693.74,187.05 695.13,184.98 696.52,182.91 697.91,180.84 699.3,178.77 700.69,176.69 702.08,174.62 703.47,172.54 704.86,170.45 706.25,168.37 707.64,166.28 709.03,164.2 710.42,162.11 711.81,160.01 713.2,157.92 714.59,155.83 715.98,153.73 717.37,151.63 718.76,149.53 720.15,147.42 721.54,145.32 722.93,143.21 724.32,141.1 725.71,138.99 727.1,136.88 728.49,134.76 729.88,132.64 731.27,130.52 732.66,128.4 734.05,126.28 735.44,124.15 736.83,122.03 738.22,119.9 739.61,117.77 741,115.63 742.39,113.5 743.78,111.36 745.17,109.22 746.56,107.08 747.95,104.94 749.34,102.8 750.73,100.65 752.12,98.5 753.51,96.35 754.9,94.2 756.29,92.04 757.68,89.89 759.07,87.73 760.46,85.57 761.85,83.41 763.24,81.25 764.63,79.08 766.02,76.91 767.41,74.74 768.8,72.57 770.19,70.4 771.58,68.22 772.97,66.05 774.36,63.87 775.75,61.69 777.14,59.5 778.53,57.32 779.91,55.13 781.3,52.94 782.69,50.75 784.08,48.56 785.47,46.37 786.86,44.17 788.25,41.97 789.64,39.77 791.03,37.57 792.42,35.37 793.81,33.16 795.2,30.96 796.59,28.75 797.98,26.54 799.37,24.32 800.76,22.11 802.15,19.89 803.54,17.67 804.93,15.45 806.32,13.23 807.71,11.01 809.1,8.78 810.49,6.55 811.88,4.32 813.27,2.09 814.66,-0.14 816.05,-2.38 817.44,-4.61 818.83,-6.85 820.22,-9.09 821.61,-11.33 823,-13.58 824.39,-15.83 825.78,-18.07 827.17,-20.32 828.56,-22.58 829.95,-24.83 831.34,-27.08 832.73,-29.34 834.12,-31.6 835.51,-33.86 836.9,-36.12 838.29,-38.39 839.68,-40.65 841.07,-42.92 842.46,-45.19 843.85,-47.46 845.24,-49.74 846.63,-52.01 848.02,-54.29 849.41,-56.57 850.8,-58.85 852.19,-61.13 853.58,-63.42 854.97,-65.7 856.36,-67.99 857.75,-70.28 859.14,-72.57 860.53,-74.87 861.92,-77.16 863.31,-79.46 864.7,-81.76 866.09,-84.06 867.48,-86.36 868.87,-88.67 870.26,-90.97 871.65,-93.28 873.04,-95.59 874.43,-97.9 875.82,-100.21 877.21,-102.53 878.6,-104.85 879.99,-107.16 881.38,-109.49 882.77,-111.81 884.16,-114.13 885.55,-116.46 886.94,-118.78 888.33,-121.11 889.72,-123.44 891.11,-125.78 892.5,-128.11 893.89,-130.45 895.28,-132.79 896.67,-135.13 898.06,-137.47 899.44,-139.81 900.83,-142.16 902.22,-144.5 903.61,-146.85 905,-149.2 906.39,-151.55 907.78,-153.91 909.17,-156.26 910.56,-158.62 911.95,-160.98 913.34,-163.34 914.73,-165.7 916.12,-168.07 917.51,-170.43 918.9,-172.8 920.29,-175.17 921.68,-177.54 923.07,-179.92 924.46,-182.29 925.85,-184.67 927.24,-187.05 928.63,-189.43 930.02,-191.81 931.41,-194.19 932.8,-196.58 934.19,-198.96 935.58,-201.35 936.97,-203.74 938.36,-206.14 939.75,-208.53 941.14,-210.92 942.53,-213.32 943.92,-215.72 945.31,-218.12 946.7,-220.52 948.09,-222.93 949.48,-225.33 950.87,-227.74 952.26,-230.15 953.65,-232.56 955.04,-234.97 956.43,-237.39 957.82,-239.81 959.21,-242.22 960.6,-244.64 961.99,-247.06 963.38,-249.49 964.77,-251.91 966.16,-254.34 967.55,-256.77 968.94,-259.2 970.33,-261.63 971.72,-264.06 973.11,-266.5 974.5,-268.93 975.89,-271.37 977.28,-273.81 978.67,-276.25 980.06,-278.69 981.45,-281.14 982.84,-283.59 984.23,-286.03 985.62,-288.48 987.01,-290.94 988.4,-293.39 989.79,-295.85 991.18,-298.3 992.57,-300.76 993.96,-303.22 995.35,-305.68 996.74,-308.15 998.13,-310.61 999.52,-313.08 1000.91,-315.55 1002.3,-318.02 1003.69,-320.49 1005.08,-322.96 1006.47,-325.44 1007.86,-327.91 1009.25,-330.39 1010.64,-332.87 1012.03,-335.35 1013.42,-337.84 1014.81,-340.32 1016.2,-342.81 1017.59,-345.3 1018.97,-347.79 1020.36,-350.28 1021.75,-352.77 1023.14,-355.27 1024.53,-357.76 1025.92,-360.26 1027.31,-362.76 1028.7,-365.26 1030.09,-367.77 1031.48,-370.27 1032.87,-372.78 1034.26,-375.29 1035.65,-377.8 1037.04,-380.31 1038.43,-382.82 1039.82,-385.34 1041.21,-387.85 1042.6,-390.37 1043.99,-392.89 1045.38,-395.41 1046.77,-397.93 1048.16,-400.46 1049.55,-402.98 1050.94,-405.51 1052.33,-408.04 1053.72,-410.57" fill="none" stroke="rgba(205,40,50,0.6)" stroke-width="2.6" transform="translate(1.1,0.4)"/>
<line x1="108.52" x2="108.52" y1="96.2" y2="108.5" stroke="rgb(108,146,170)" stroke-width="2.6"/>
<line x1="188.75" x2="188.75" y1="96.2" y2="108.5" stroke="rgb(108,146,170)" stroke-width="2.6"/>
<line x1="289.03" x2="289.03" y1="96.2" y2="108.5" stroke="rgb(108,146,170)" stroke-width="2.6"/>
<line x1="389.32" x2="389.32" y1="96.2" y2="108.5" stroke="rgb(108,146,170)" stroke-width="2.6"/>
<line x1="589.9" x2="589.9" y1="96.2" y2="108.5" stroke="rgb(108,146,170)" stroke-width="2.6"/>
<line x1="656.75" x2="656.75" y1="96.2" y2="108.5" stroke="rgb(108,146,170)" stroke-width="2.6"/>
<line x1="740.33" x2="740.33" y1="96.2" y2="108.5" stroke="rgb(108,146,170)" stroke-width="2.6"/>
<line x1="847.78" x2="847.78" y1="96.2" y2="108.5" stroke="rgb(180,105,112)" stroke-width="2.6"/>
<line x1="991.04" x2="991.04" y1="96.2" y2="108.5" stroke="rgb(180,105,112)" stroke-width="2.6"/>
<g clip-path="url(#hz)">
<path d="M32.3,0L0,32.3M72.65,0L0,72.65M113,0L0,113M153.35,0L0,153.35M193.7,0L0,193.7M234.05,0L0,234.05M274.4,0L0,274.4M314.75,0L0,314.75M355.1,0L0,355.1M395.45,0L0,395.45M435.8,0L0,435.8M476.15,0L0,476.15M516.5,0L0,516.5M556.85,0L0,556.85M597.2,0L0,597.2M637.55,0L0,637.55M677.9,0L0,677.9M718.25,0L0,718.25M758.6,0L0,758.6M798.95,0L0,798.95M839.3,0L0,839.3M879.65,0L0,879.65M920,0L0,920M960.35,0L0,960.35M1000.7,0L0,1000.7M1041.05,0L0,1041.05M1081.4,0L0,1081.4M1121.75,0L0,1121.75M1162.1,0L0,1162.1M1202.45,0L0,1202.45M1242.8,0L0,1242.8M1283.15,0L0,1283.15M1323.5,0L0,1323.5M1363.85,0L0,1363.85M1404.2,0L0,1404.2M1444.55,0L0,1444.55M1484.9,0L0,1484.9M1525.25,0L0,1525.25M1565.6,0L0,1565.6M1605.95,0L0,1605.95M1646.3,0L0,1646.3M1686.65,0L0,1686.65M1727,0L0,1727M1767.35,0L0,1767.35M1807.7,0L0,1807.7M1848.05,0L0,1848.05M1888.4,0L0,1888.4M1928.75,0L0,1928.75M1969.1,0L0,1969.1M2009.45,0L0,2009.45M2049.8,0L0,2049.8M2090.15,0L0,2090.15" stroke="#fff" stroke-opacity="0.5" stroke-width="3.0" fill="none"/>
</g>
<polyline points="535.3,16.8 536.69,19.02 538.08,21.22 539.46,23.41 540.85,25.59 542.24,27.76 543.63,29.91 545.02,32.06 546.41,34.2 547.8,36.32 549.19,38.44 550.58,40.54 551.97,42.64 553.36,44.72 554.75,46.8 556.14,48.86 557.53,50.91 558.92,52.96 560.31,54.99 561.7,57.02 563.09,59.03 564.48,61.03 565.87,63.03 567.26,65.01 568.65,66.99 570.04,68.96 571.43,70.91 572.82,72.86 574.21,74.8 575.6,76.73 576.99,78.65 578.38,80.56 579.77,82.46 581.16,84.35 582.55,86.24 583.94,88.11 585.33,89.98 586.72,91.84 588.11,93.69 589.5,95.53 590.89,97.36 592.28,99.19 593.67,101 595.06,102.81 596.45,104.61 597.84,106.4 599.23,108.18 600.62,109.96 602.01,111.72 603.4,113.48 604.79,115.23 606.18,116.97 607.57,118.71 608.96,120.44 610.35,122.16 611.74,123.87 613.13,125.57 614.52,127.27 615.91,128.96 617.3,130.64 618.69,132.31 620.08,133.98 621.47,135.64 622.86,137.29 624.25,138.94 625.64,140.58 627.03,142.21 628.42,143.83 629.81,145.45 631.2,147.06 632.59,148.66 633.98,150.25 635.37,151.84 636.76,153.43 638.15,155 639.54,156.57 640.93,158.13 642.32,159.69 643.71,161.24 645.1,162.78 646.49,164.31 647.88,165.84 649.27,167.37 650.66,168.88 652.05,170.39 653.44,171.9 654.83,173.39 656.22,174.88 657.61,176.37 658.99,177.85 660.38,179.32 661.77,180.79 663.16,182.25 664.55,183.7 665.94,185.15 667.33,186.59 668.72,188.03 670.11,189.46 671.5,190.89 672.89,192.31 674.28,193.72 675.67,195.13 677.06,196.53 678.45,197.93 679.84,199.32 681.23,200.7 682.62,202.08 684.01,203.46 685.4,204.83 686.79,206.19 688.18,207.55 689.57,208.9 690.96,210.25 692.35,211.59 693.74,212.93 695.13,214.26 696.52,215.58 697.91,216.91 699.3,218.22 700.69,219.53 702.08,220.84 703.47,222.14 704.86,223.43 706.25,224.72 707.64,226.01 709.03,227.29 710.42,228.57 711.81,229.84 713.2,231.1 714.59,232.36 715.98,233.62 717.37,234.87 718.76,236.12 720.15,237.36 721.54,238.6 722.93,239.83 724.32,241.06 725.71,242.28 727.1,243.5 728.49,244.71 729.88,245.92 731.27,247.13 732.66,248.33 734.05,249.52 735.44,250.72 736.83,251.9 738.22,253.09 739.61,254.26 741,255.44 742.39,256.61 743.78,257.77 745.17,258.93 746.56,260.09 747.95,261.24 749.34,262.39 750.73,263.54 752.12,264.68 753.51,265.81 754.9,266.94 756.29,268.07 757.68,269.19 759.07,270.31 760.46,271.43 761.85,272.54 763.24,273.65 764.63,274.75 766.02,275.85 767.41,276.95 768.8,278.04 770.19,279.13 771.58,280.21 772.97,281.29 774.36,282.37 775.75,283.44 777.14,284.51 778.53,285.57 779.91,286.64 781.3,287.69 782.69,288.75 784.08,289.8 785.47,290.84 786.86,291.89 788.25,292.93 789.64,293.96 791.03,294.99 792.42,296.02 793.81,297.05 795.2,298.07 796.59,299.09 797.98,300.1 799.37,301.11 800.76,302.12 802.15,303.12 803.54,304.12 804.93,305.12 806.32,306.12 807.71,307.11 809.1,308.09 810.49,309.08 811.88,310.06 813.27,311.03 814.66,312.01 816.05,312.98 817.44,313.95 818.83,314.91 820.22,315.87 821.61,316.83 823,317.78 824.39,318.74 825.78,319.68 827.17,320.63 828.56,321.57 829.95,322.51 831.34,323.44 832.73,324.38 834.12,325.31 835.51,326.23 836.9,327.16 838.29,328.08 839.68,328.99 841.07,329.91 842.46,330.82 843.85,331.73 845.24,332.63 846.63,333.54 848.02,334.44 849.41,335.33 850.8,336.23 852.19,337.12 853.58,338.01 854.97,338.89 856.36,339.78 857.75,340.65 859.14,341.53 860.53,342.41 861.92,343.28 863.31,344.15 864.7,345.01 866.09,345.87 867.48,346.73 868.87,347.59 870.26,348.45 871.65,349.3 873.04,350.15 874.43,351 875.82,351.84 877.21,352.68 878.6,353.52 879.99,354.36 881.38,355.19 882.77,356.02 884.16,356.85 885.55,357.68 886.94,358.5 888.33,359.32 889.72,360.14 891.11,360.96 892.5,361.77 893.89,362.58 895.28,363.39 896.67,364.19 898.06,365 899.44,365.8 900.83,366.6 902.22,367.39 903.61,368.19 905,368.98 906.39,369.77 907.78,370.55 909.17,371.34 910.56,372.12 911.95,372.9 913.34,373.68 914.73,374.45 916.12,375.22 917.51,375.99 918.9,376.76 920.29,377.53 921.68,378.29 923.07,379.05 924.46,379.81 925.85,380.57 927.24,381.32 928.63,382.07 930.02,382.82 931.41,383.57 932.8,384.31 934.19,385.06 935.58,385.8 936.97,386.54 938.36,387.27 939.75,388.01 941.14,388.74 942.53,389.47 943.92,390.2 945.31,390.92 946.7,391.65 948.09,392.37 949.48,393.09 950.87,393.81 952.26,394.52 953.65,395.24 955.04,395.95 956.43,396.66 957.82,397.37 959.21,398.07 960.6,398.77 961.99,399.48 963.38,400.17 964.77,400.87 966.16,401.57 967.55,402.26 968.94,402.95 970.33,403.64 971.72,404.33 973.11,405.01 974.5,405.7 975.89,406.38 977.28,407.06 978.67,407.74 980.06,408.41 981.45,409.09 982.84,409.76 984.23,410.43 985.62,411.1 987.01,411.77 988.4,412.43 989.79,413.09 991.18,413.75 992.57,414.41 993.96,415.07 995.35,415.73 996.74,416.38 998.13,417.03 999.52,417.68 1000.91,418.33 1002.3,418.98 1003.69,419.62 1005.08,420.27 1006.47,420.91 1007.86,421.55 1009.25,422.18 1010.64,422.82 1012.03,423.45 1013.42,424.09 1014.81,424.72 1016.2,425.35 1017.59,425.98 1018.97,426.6 1020.36,427.23 1021.75,427.85 1023.14,428.47 1024.53,429.09 1025.92,429.71 1027.31,430.32 1028.7,430.94 1030.09,431.55 1031.48,432.16 1032.87,432.77 1034.26,433.38 1035.65,433.98 1037.04,434.59 1038.43,435.19 1039.82,435.79 1041.21,436.39 1042.6,436.99 1043.99,437.58 1045.38,438.18 1046.77,438.77 1048.16,439.37 1049.55,439.96 1050.94,440.54 1052.33,441.13 1053.72,441.72" fill="none" stroke="rgb(185,238,52)" stroke-width="4.6"/>
<polyline points="262.88,20.44 264.27,24.82 265.66,29.15 267.05,33.44 268.44,37.69 269.83,41.9 271.22,46.06 272.61,50.19 274,54.27 275.39,58.32 276.78,62.32 278.17,66.29 279.56,70.22 280.95,74.11 282.34,77.97 283.73,81.79 285.12,85.57 286.51,89.32 287.9,93.03 289.29,96.71 290.68,100.36 292.07,103.97 293.46,107.55 294.85,111.1 296.24,114.61 297.63,118.09 299.01,121.55 300.4,124.97 301.79,128.36 303.18,131.72 304.57,135.05 305.96,138.35 307.35,141.63 308.74,144.87 310.13,148.09 311.52,151.28 312.91,154.44 314.3,157.58 315.69,160.69 317.08,163.77 318.47,166.83 319.86,169.86 321.25,172.86 322.64,175.84 324.03,178.8 325.42,181.73 326.81,184.64 328.2,187.52 329.59,190.38 330.98,193.22 332.37,196.03 333.76,198.83 335.15,201.59 336.54,204.34 337.93,207.07 339.32,209.77 340.71,212.45 342.1,215.11 343.49,217.76 344.88,220.38 346.27,222.97 347.66,225.55 349.05,228.11 350.44,230.65 351.83,233.17 353.22,235.68 354.61,238.16 356,240.62 357.39,243.07 358.78,245.49 360.17,247.9 361.56,250.29 362.95,252.67 364.34,255.02 365.73,257.36 367.12,259.68 368.51,261.98 369.9,264.27 371.29,266.54 372.68,268.8 374.07,271.03 375.46,273.26 376.85,275.46 378.24,277.65 379.63,279.83 381.02,281.99 382.41,284.13 383.8,286.26 385.19,288.37 386.58,290.47 387.97,292.56 389.36,294.63 390.75,296.68 392.14,298.73 393.53,300.75 394.92,302.77 396.31,304.77 397.7,306.76 399.09,308.73 400.48,310.69 401.87,312.64 403.26,314.57 404.65,316.49 406.04,318.4 407.43,320.29 408.82,322.18 410.21,324.05 411.6,325.91 412.99,327.75 414.38,329.59 415.77,331.41 417.16,333.22 418.54,335.02 419.93,336.8 421.32,338.58 422.71,340.34 424.1,342.1 425.49,343.84 426.88,345.57 428.27,347.29 429.66,349 431.05,350.7 432.44,352.38 433.83,354.06 435.22,355.73 436.61,357.38 438,359.03 439.39,360.67 440.78,362.29 442.17,363.91 443.56,365.51 444.95,367.11 446.34,368.7 447.73,370.27 449.12,371.84 450.51,373.4 451.9,374.95 453.29,376.49 454.68,378.02 456.07,379.54 457.46,381.05 458.85,382.56 460.24,384.05 461.63,385.54 463.02,387.01 464.41,388.48 465.8,389.94 467.19,391.39 468.58,392.84 469.97,394.27 471.36,395.7 472.75,397.11 474.14,398.52 475.53,399.93 476.92,401.32 478.31,402.71 479.7,404.09 481.09,405.46 482.48,406.82 483.87,408.17 485.26,409.52 486.65,410.86 488.04,412.19 489.43,413.52 490.82,414.84 492.21,416.15 493.6,417.45 494.99,418.75 496.38,420.04 497.77,421.32 499.16,422.59 500.55,423.86 501.94,425.12 503.33,426.38 504.72,427.63 506.11,428.87 507.5,430.1 508.89,431.33 510.28,432.55 511.67,433.77 513.06,434.98 514.45,436.18 515.84,437.37 517.23,438.56 518.62,439.75 520.01,440.92 521.4,442.09 522.79,443.26 524.18,444.42 525.57,445.57 526.96,446.72 528.35,447.86 529.74,448.99 531.13,450.12 532.52,451.25 533.91,452.36 535.3,453.48 536.69,454.58 538.08,455.68 539.46,456.78 540.85,457.87 542.24,458.95 543.63,460.03 545.02,461.11 546.41,462.17 547.8,463.24 549.19,464.29 550.58,465.35 551.97,466.39 553.36,467.44 554.75,468.47 556.14,469.51 557.53,470.53 558.92,471.55 560.31,472.57 561.7,473.58 563.09,474.59 564.48,475.59 565.87,476.59 567.26,477.58 568.65,478.57 570.04,479.55 571.43,480.53 572.82,481.51 574.21,482.47 575.6,483.44 576.99,484.4 578.38,485.35 579.77,486.31 581.16,487.25 582.55,488.19 583.94,489.13 585.33,490.07 586.72,490.99 588.11,491.92 589.5,492.84 590.89,493.76 592.28,494.67 593.67,495.58 595.06,496.48 596.45,497.38 597.84,498.27 599.23,499.17 600.62,500.05 602.01,500.94 603.4,501.82 604.79,502.69 606.18,503.56 607.57,504.43 608.96,505.29 610.35,506.15 611.74,507.01 613.13,507.86 614.52,508.71 615.91,509.55 617.3,510.39 618.69,511.23 620.08,512.07 621.47,512.89 622.86,513.72 624.25,514.54 625.64,515.36 627.03,516.18 628.42,516.99 629.81,517.8 631.2,518.6 632.59,519.4 633.98,520.2 635.37,521 636.76,521.79 638.15,522.58 639.54,523.36 640.93,524.14 642.32,524.92 643.71,525.69 645.1,526.46 646.49,527.23 647.88,528 649.27,528.76 650.66,529.52 652.05,530.27 653.44,531.02 654.83,531.77 656.22,532.52 657.61,533.26 658.99,534 660.38,534.74 661.77,535.47 663.16,536.2 664.55,536.93 665.94,537.65 667.33,538.37 668.72,539.09 670.11,539.81 671.5,540.52 672.89,541.23 674.28,541.94 675.67,542.64 677.06,543.34 678.45,544.04 679.84,544.73 681.23,545.43 682.62,546.12 684.01,546.8 685.4,547.49 686.79,548.17 688.18,548.85 689.57,549.53 690.96,550.2 692.35,550.87 693.74,551.54 695.13,552.2 696.52,552.87 697.91,553.53 699.3,554.19 700.69,554.84 702.08,555.49 703.47,556.14 704.86,556.79 706.25,557.44 707.64,558.08 709.03,558.72 710.42,559.36 711.81,559.99 713.2,560.63 714.59,561.26 715.98,561.88 717.37,562.51 718.76,563.13 720.15,563.75 721.54,564.37 722.93,564.99 724.32,565.6 725.71,566.22 727.1,566.82 728.49,567.43 729.88,568.04 731.27,568.64 732.66,569.24 734.05,569.84 735.44,570.43 736.83,571.03 738.22,571.62 739.61,572.21 741,572.79 742.39,573.38 743.78,573.96 745.17,574.54 746.56,575.12 747.95,575.7 749.34,576.27 750.73,576.84 752.12,577.41 753.51,577.98 754.9,578.55 756.29,579.11 757.68,579.67 759.07,580.23 760.46,580.79 761.85,581.35 763.24,581.9 764.63,582.45 766.02,583 767.41,583.55 768.8,584.09 770.19,584.64 771.58,585.18 772.97,585.72 774.36,586.26 775.75,586.8 777.14,587.33 778.53,587.86 779.91,588.39 781.3,588.92 782.69,589.45 784.08,589.97 785.47,590.5 786.86,591.02 788.25,591.54 789.64,592.06 791.03,592.57 792.42,593.09 793.81,593.6 795.2,594.11 796.59,594.62 797.98,595.13 799.37,595.63 800.76,596.13 802.15,596.64 803.54,597.14 804.93,597.64 806.32,598.13 807.71,598.63 809.1,599.12 810.49,599.61 811.88,600.1 813.27,600.59 814.66,601.08 816.05,601.56 817.44,602.05 818.83,602.53 820.22,603.01 821.61,603.49 823,603.97 824.39,604.44 825.78,604.92 827.17,605.39 828.56,605.86 829.95,606.33 831.34,606.8 832.73,607.26 834.12,607.73 835.51,608.19 836.9,608.65 838.29,609.11 839.68,609.57 841.07,610.03 842.46,610.49 843.85,610.94 845.24,611.39 846.63,611.84 848.02,612.29 849.41,612.74 850.8,613.19 852.19,613.63 853.58,614.08 854.97,614.52 856.36,614.96 857.75,615.4 859.14,615.84 860.53,616.28 861.92,616.71 863.31,617.15 864.7,617.58 866.09,618.01 867.48,618.44 868.87,618.87 870.26,619.3 871.65,619.72 873.04,620.15 874.43,620.57 875.82,621 877.21,621.42 878.6,621.84 879.99,622.25 881.38,622.67 882.77,623.09 884.16,623.5 885.55,623.91 886.94,624.32 888.33,624.74 889.72,625.14 891.11,625.55 892.5,625.96 893.89,626.36 895.28,626.77 896.67,627.17 898.06,627.57 899.44,627.97 900.83,628.37 902.22,628.77 903.61,629.17 905,629.56 906.39,629.96 907.78,630.35 909.17,630.74 910.56,631.13 911.95,631.52 913.34,631.91 914.73,632.3 916.12,632.69 917.51,633.07 918.9,633.46 920.29,633.84 921.68,634.22 923.07,634.6 924.46,634.98 925.85,635.36 927.24,635.73 928.63,636.11 930.02,636.49 931.41,636.86 932.8,637.23 934.19,637.6 935.58,637.97 936.97,638.34 938.36,638.71 939.75,639.08 941.14,639.45 942.53,639.81 943.92,640.17 945.31,640.54 946.7,640.9 948.09,641.26 949.48,641.62 950.87,641.98 952.26,642.34 953.65,642.69 955.04,643.05 956.43,643.4 957.82,643.76 959.21,644.11 960.6,644.46 961.99,644.81 963.38,645.16 964.77,645.51 966.16,645.86 967.55,646.21 968.94,646.55 970.33,646.9 971.72,647.24 973.11,647.58 974.5,647.92 975.89,648.26 977.28,648.6 978.67,648.94 980.06,649.28 981.45,649.62 982.84,649.95 984.23,650.29 985.62,650.62 987.01,650.96 988.4,651.29 989.79,651.62 991.18,651.95 992.57,652.28 993.96,652.61 995.35,652.94 996.74,653.26 998.13,653.59 999.52,653.92 1000.91,654.24 1002.3,654.56 1003.69,654.89 1005.08,655.21 1006.47,655.53 1007.86,655.85 1009.25,656.17 1010.64,656.49 1012.03,656.8 1013.42,657.12 1014.81,657.43 1016.2,657.75 1017.59,658.06 1018.97,658.38 1020.36,658.69 1021.75,659 1023.14,659.31 1024.53,659.62 1025.92,659.93 1027.31,660.24 1028.7,660.54 1030.09,660.85 1031.48,661.15 1032.87,661.46 1034.26,661.76 1035.65,662.07 1037.04,662.37 1038.43,662.67 1039.82,662.97 1041.21,663.27 1042.6,663.57 1043.99,663.87 1045.38,664.16 1046.77,664.46 1048.16,664.76 1049.55,665.05 1050.94,665.35 1052.33,665.64 1053.72,665.93" fill="none" stroke="rgb(94,212,118)" stroke-width="4.6"/>
<polyline points="171.15,19.66 172.54,26.22 173.93,32.68 175.32,39.05 176.71,45.33 178.09,51.51 179.48,57.6 180.87,63.61 182.26,69.52 183.65,75.36 185.04,81.11 186.43,86.78 187.82,92.38 189.21,97.89 190.6,103.33 191.99,108.7 193.38,113.99 194.77,119.21 196.16,124.36 197.55,129.45 198.94,134.46 200.33,139.41 201.72,144.3 203.11,149.12 204.5,153.88 205.89,158.58 207.28,163.22 208.67,167.81 210.06,172.33 211.45,176.8 212.84,181.21 214.23,185.57 215.62,189.88 217.01,194.13 218.4,198.33 219.79,202.48 221.18,206.59 222.57,210.64 223.96,214.64 225.35,218.6 226.74,222.52 228.13,226.38 229.52,230.2 230.91,233.98 232.3,237.72 233.69,241.41 235.08,245.06 236.47,248.68 237.86,252.25 239.25,255.78 240.64,259.27 242.03,262.72 243.42,266.14 244.81,269.52 246.2,272.86 247.59,276.17 248.98,279.44 250.37,282.68 251.76,285.88 253.15,289.05 254.54,292.19 255.93,295.29 257.32,298.36 258.71,301.41 260.1,304.41 261.49,307.39 262.88,310.34 264.27,313.26 265.66,316.15 267.05,319.01 268.44,321.84 269.83,324.65 271.22,327.42 272.61,330.17 274,332.9 275.39,335.59 276.78,338.26 278.17,340.91 279.56,343.53 280.95,346.12 282.34,348.7 283.73,351.24 285.12,353.76 286.51,356.26 287.9,358.74 289.29,361.19 290.68,363.62 292.07,366.03 293.46,368.42 294.85,370.78 296.24,373.12 297.63,375.45 299.01,377.75 300.4,380.03 301.79,382.29 303.18,384.53 304.57,386.75 305.96,388.95 307.35,391.14 308.74,393.3 310.13,395.44 311.52,397.57 312.91,399.68 314.3,401.77 315.69,403.84 317.08,405.9 318.47,407.93 319.86,409.95 321.25,411.96 322.64,413.95 324.03,415.92 325.42,417.87 326.81,419.81 328.2,421.73 329.59,423.64 330.98,425.53 332.37,427.41 333.76,429.27 335.15,431.11 336.54,432.94 337.93,434.76 339.32,436.56 340.71,438.35 342.1,440.13 343.49,441.89 344.88,443.63 346.27,445.37 347.66,447.09 349.05,448.79 350.44,450.49 351.83,452.17 353.22,453.83 354.61,455.49 356,457.13 357.39,458.76 358.78,460.38 360.17,461.98 361.56,463.58 362.95,465.16 364.34,466.73 365.73,468.29 367.12,469.84 368.51,471.37 369.9,472.9 371.29,474.41 372.68,475.91 374.07,477.41 375.46,478.89 376.85,480.36 378.24,481.82 379.63,483.27 381.02,484.71 382.41,486.14 383.8,487.56 385.19,488.97 386.58,490.37 387.97,491.76 389.36,493.14 390.75,494.51 392.14,495.87 393.53,497.22 394.92,498.56 396.31,499.9 397.7,501.22 399.09,502.54 400.48,503.84 401.87,505.14 403.26,506.43 404.65,507.71 406.04,508.98 407.43,510.25 408.82,511.5 410.21,512.75 411.6,513.99 412.99,515.22 414.38,516.44 415.77,517.65 417.16,518.86 418.54,520.06 419.93,521.25 421.32,522.44 422.71,523.61 424.1,524.78 425.49,525.94 426.88,527.1 428.27,528.24 429.66,529.38 431.05,530.51 432.44,531.64 433.83,532.76 435.22,533.87 436.61,534.97 438,536.07 439.39,537.16 440.78,538.24 442.17,539.32 443.56,540.39 444.95,541.46 446.34,542.51 447.73,543.57 449.12,544.61 450.51,545.65 451.9,546.68 453.29,547.71 454.68,548.73 456.07,549.74 457.46,550.75 458.85,551.75 460.24,552.75 461.63,553.74 463.02,554.73 464.41,555.7 465.8,556.68 467.19,557.64 468.58,558.61 469.97,559.56 471.36,560.51 472.75,561.46 474.14,562.4 475.53,563.33 476.92,564.26 478.31,565.19 479.7,566.11 481.09,567.02 482.48,567.93 483.87,568.83 485.26,569.73 486.65,570.62 488.04,571.51 489.43,572.4 490.82,573.27 492.21,574.15 493.6,575.02 494.99,575.88 496.38,576.74 497.77,577.6 499.16,578.45 500.55,579.29 501.94,580.13 503.33,580.97 504.72,581.8 506.11,582.63 507.5,583.45 508.89,584.27 510.28,585.08 511.67,585.89 513.06,586.7 514.45,587.5 515.84,588.3 517.23,589.09 518.62,589.88 520.01,590.67 521.4,591.45 522.79,592.22 524.18,593 525.57,593.76 526.96,594.53 528.35,595.29 529.74,596.05 531.13,596.8 532.52,597.55 533.91,598.29 535.3,599.03 536.69,599.77 538.08,600.51 539.46,601.24 540.85,601.96 542.24,602.69 543.63,603.4 545.02,604.12 546.41,604.83 547.8,605.54 549.19,606.25 550.58,606.95 551.97,607.65 553.36,608.34 554.75,609.03 556.14,609.72 557.53,610.4 558.92,611.09 560.31,611.76 561.7,612.44 563.09,613.11 564.48,613.78 565.87,614.44 567.26,615.1 568.65,615.76 570.04,616.42 571.43,617.07 572.82,617.72 574.21,618.37 575.6,619.01 576.99,619.65 578.38,620.29 579.77,620.92 581.16,621.55 582.55,622.18 583.94,622.8 585.33,623.43 586.72,624.05 588.11,624.66 589.5,625.28 590.89,625.89 592.28,626.5 593.67,627.1 595.06,627.7 596.45,628.3 597.84,628.9 599.23,629.49 600.62,630.09 602.01,630.67 603.4,631.26 604.79,631.84 606.18,632.42 607.57,633 608.96,633.58 610.35,634.15 611.74,634.72 613.13,635.29 614.52,635.86 615.91,636.42 617.3,636.98 618.69,637.54 620.08,638.09 621.47,638.65 622.86,639.2 624.25,639.75 625.64,640.29 627.03,640.84 628.42,641.38 629.81,641.92 631.2,642.45 632.59,642.99 633.98,643.52 635.37,644.05 636.76,644.58 638.15,645.1 639.54,645.62 640.93,646.14 642.32,646.66 643.71,647.18 645.1,647.69 646.49,648.2 647.88,648.71 649.27,649.22 650.66,649.73 652.05,650.23 653.44,650.73 654.83,651.23 656.22,651.73 657.61,652.22 658.99,652.72 660.38,653.21 661.77,653.7 663.16,654.18 664.55,654.67 665.94,655.15 667.33,655.63 668.72,656.11 670.11,656.59 671.5,657.06 672.89,657.54 674.28,658.01 675.67,658.48 677.06,658.94 678.45,659.41 679.84,659.87 681.23,660.33 682.62,660.79 684.01,661.25 685.4,661.71 686.79,662.16 688.18,662.62 689.57,663.07 690.96,663.52 692.35,663.96 693.74,664.41 695.13,664.85 696.52,665.29 697.91,665.74 699.3,666.17 700.69,666.61 702.08,667.05 703.47,667.48 704.86,667.91 706.25,668.34 707.64,668.77 709.03,669.2 710.42,669.62 711.81,670.05 713.2,670.47 714.59,670.89 715.98,671.31 717.37,671.72 718.76,672.14 720.15,672.55 721.54,672.97 722.93,673.38 724.32,673.79 725.71,674.19 727.1,674.6 728.49,675 729.88,675.41 731.27,675.81 732.66,676.21 734.05,676.61 735.44,677.01 736.83,677.4 738.22,677.8 739.61,678.19 741,678.58 742.39,678.97 743.78,679.36 745.17,679.74 746.56,680.13 747.95,680.51 749.34,680.9 750.73,681.28 752.12,681.66 753.51,682.04 754.9,682.41 756.29,682.79 757.68,683.16 759.07,683.54 760.46,683.91 761.85,684.28 763.24,684.65 764.63,685.02 766.02,685.38 767.41,685.75 768.8,686.11 770.19,686.48 771.58,686.84 772.97,687.2 774.36,687.56 775.75,687.91 777.14,688.27 778.53,688.62 779.91,688.98 781.3,689.33 782.69,689.68 784.08,690.03 785.47,690.38 786.86,690.73 788.25,691.08 789.64,691.42 791.03,691.76 792.42,692.11 793.81,692.45 795.2,692.79 796.59,693.13 797.98,693.47 799.37,693.8 800.76,694.14 802.15,694.47 803.54,694.81 804.93,695.14 806.32,695.47 807.71,695.8 809.1,696.13 810.49,696.46 811.88,696.79 813.27,697.11 814.66,697.44 816.05,697.76 817.44,698.08 818.83,698.4 820.22,698.72 821.61,699.04 823,699.36 824.39,699.68 825.78,699.99 827.17,700.31 828.56,700.62 829.95,700.94 831.34,701.25 832.73,701.56 834.12,701.87 835.51,702.18 836.9,702.49 838.29,702.79 839.68,703.1 841.07,703.4 842.46,703.71 843.85,704.01 845.24,704.31 846.63,704.61 848.02,704.91 849.41,705.21 850.8,705.51 852.19,705.81 853.58,706.1 854.97,706.4 856.36,706.69 857.75,706.98 859.14,707.28 860.53,707.57 861.92,707.86 863.31,708.15 864.7,708.44 866.09,708.72 867.48,709.01 868.87,709.3 870.26,709.58 871.65,709.87 873.04,710.15 874.43,710.43 875.82,710.71 877.21,710.99 878.6,711.27 879.99,711.55 881.38,711.83 882.77,712.11 884.16,712.38 885.55,712.66 886.94,712.93 888.33,713.21 889.72,713.48 891.11,713.75 892.5,714.02 893.89,714.29 895.28,714.56 896.67,714.83 898.06,715.1 899.44,715.37 900.83,715.63 902.22,715.9 903.61,716.16 905,716.43 906.39,716.69 907.78,716.95 909.17,717.21 910.56,717.47 911.95,717.73 913.34,717.99 914.73,718.25 916.12,718.51 917.51,718.76 918.9,719.02 920.29,719.28 921.68,719.53 923.07,719.78 924.46,720.04 925.85,720.29 927.24,720.54 928.63,720.79 930.02,721.04 931.41,721.29 932.8,721.54 934.19,721.79 935.58,722.03 936.97,722.28 938.36,722.52 939.75,722.77 941.14,723.01 942.53,723.26 943.92,723.5 945.31,723.74 946.7,723.98 948.09,724.22 949.48,724.46 950.87,724.7 952.26,724.94 953.65,725.18 955.04,725.42 956.43,725.65 957.82,725.89 959.21,726.12 960.6,726.36 961.99,726.59 963.38,726.82 964.77,727.06 966.16,727.29 967.55,727.52 968.94,727.75 970.33,727.98 971.72,728.21 973.11,728.44 974.5,728.67 975.89,728.89 977.28,729.12 978.67,729.35 980.06,729.57 981.45,729.8 982.84,730.02 984.23,730.24 985.62,730.47 987.01,730.69 988.4,730.91 989.79,731.13 991.18,731.35 992.57,731.57 993.96,731.79 995.35,732.01 996.74,732.23 998.13,732.44 999.52,732.66 1000.91,732.88 1002.3,733.09 1003.69,733.31 1005.08,733.52 1006.47,733.74 1007.86,733.95 1009.25,734.16 1010.64,734.37 1012.03,734.58 1013.42,734.8 1014.81,735.01 1016.2,735.22 1017.59,735.43 1018.97,735.63 1020.36,735.84 1021.75,736.05 1023.14,736.26 1024.53,736.46 1025.92,736.67 1027.31,736.87 1028.7,737.08 1030.09,737.28 1031.48,737.49 1032.87,737.69 1034.26,737.89 1035.65,738.09 1037.04,738.3 1038.43,738.5 1039.82,738.7 1041.21,738.9 1042.6,739.1 1043.99,739.29 1045.38,739.49 1046.77,739.69 1048.16,739.89 1049.55,740.09 1050.94,740.28 1052.33,740.48 1053.72,740.67" fill="none" stroke="rgb(64,152,138)" stroke-width="4.6"/>
<polyline points="125.28,18.87 126.67,27.62 128.06,36.19 129.45,44.59 130.84,52.83 132.23,60.9 133.62,68.83 135.01,76.6 136.4,84.23 137.79,91.72 139.18,99.07 140.57,106.28 141.96,113.37 143.35,120.33 144.74,127.16 146.13,133.87 147.52,140.47 148.91,146.95 150.3,153.32 151.69,159.59 153.08,165.74 154.47,171.8 155.86,177.75 157.25,183.61 158.64,189.37 160.03,195.04 161.42,200.61 162.81,206.1 164.2,211.5 165.59,216.82 166.98,222.05 168.37,227.21 169.76,232.28 171.15,237.28 172.54,242.2 173.93,247.05 175.32,251.83 176.71,256.53 178.09,261.17 179.48,265.74 180.87,270.24 182.26,274.68 183.65,279.06 185.04,283.37 186.43,287.63 187.82,291.82 189.21,295.96 190.6,300.04 191.99,304.06 193.38,308.03 194.77,311.95 196.16,315.81 197.55,319.62 198.94,323.38 200.33,327.1 201.72,330.76 203.11,334.38 204.5,337.95 205.89,341.48 207.28,344.96 208.67,348.39 210.06,351.79 211.45,355.14 212.84,358.45 214.23,361.72 215.62,364.95 217.01,368.14 218.4,371.29 219.79,374.4 221.18,377.48 222.57,380.52 223.96,383.52 225.35,386.49 226.74,389.42 228.13,392.32 229.52,395.19 230.91,398.03 232.3,400.83 233.69,403.6 235.08,406.34 236.47,409.04 237.86,411.72 239.25,414.37 240.64,416.99 242.03,419.58 243.42,422.14 244.81,424.68 246.2,427.18 247.59,429.67 248.98,432.12 250.37,434.55 251.76,436.95 253.15,439.33 254.54,441.68 255.93,444.01 257.32,446.31 258.71,448.59 260.1,450.85 261.49,453.08 262.88,455.29 264.27,457.48 265.66,459.65 267.05,461.8 268.44,463.92 269.83,466.02 271.22,468.11 272.61,470.17 274,472.21 275.39,474.23 276.78,476.24 278.17,478.22 279.56,480.18 280.95,482.13 282.34,484.06 283.73,485.97 285.12,487.86 286.51,489.73 287.9,491.59 289.29,493.43 290.68,495.25 292.07,497.06 293.46,498.85 294.85,500.62 296.24,502.38 297.63,504.12 299.01,505.85 300.4,507.56 301.79,509.25 303.18,510.94 304.57,512.6 305.96,514.25 307.35,515.89 308.74,517.51 310.13,519.12 311.52,520.72 312.91,522.3 314.3,523.86 315.69,525.42 317.08,526.96 318.47,528.49 319.86,530 321.25,531.51 322.64,533 324.03,534.47 325.42,535.94 326.81,537.39 328.2,538.84 329.59,540.27 330.98,541.68 332.37,543.09 333.76,544.49 335.15,545.87 336.54,547.25 337.93,548.61 339.32,549.96 340.71,551.3 342.1,552.63 343.49,553.95 344.88,555.26 346.27,556.56 347.66,557.85 349.05,559.13 350.44,560.4 351.83,561.66 353.22,562.91 354.61,564.15 356,565.39 357.39,566.61 358.78,567.82 360.17,569.03 361.56,570.22 362.95,571.41 364.34,572.59 365.73,573.75 367.12,574.92 368.51,576.07 369.9,577.21 371.29,578.35 372.68,579.47 374.07,580.59 375.46,581.7 376.85,582.81 378.24,583.9 379.63,584.99 381.02,586.07 382.41,587.14 383.8,588.2 385.19,589.26 386.58,590.31 387.97,591.35 389.36,592.39 390.75,593.42 392.14,594.44 393.53,595.45 394.92,596.46 396.31,597.46 397.7,598.45 399.09,599.44 400.48,600.42 401.87,601.39 403.26,602.36 404.65,603.32 406.04,604.27 407.43,605.22 408.82,606.16 410.21,607.1 411.6,608.03 412.99,608.95 414.38,609.87 415.77,610.78 417.16,611.68 418.54,612.58 419.93,613.48 421.32,614.36 422.71,615.25 424.1,616.12 425.49,616.99 426.88,617.86 428.27,618.72 429.66,619.57 431.05,620.42 432.44,621.27 433.83,622.11 435.22,622.94 436.61,623.77 438,624.59 439.39,625.41 440.78,626.22 442.17,627.03 443.56,627.83 444.95,628.63 446.34,629.42 447.73,630.21 449.12,631 450.51,631.77 451.9,632.55 453.29,633.32 454.68,634.08 456.07,634.84 457.46,635.6 458.85,636.35 460.24,637.1 461.63,637.84 463.02,638.58 464.41,639.32 465.8,640.05 467.19,640.77 468.58,641.49 469.97,642.21 471.36,642.92 472.75,643.63 474.14,644.34 475.53,645.04 476.92,645.74 478.31,646.43 479.7,647.12 481.09,647.8 482.48,648.48 483.87,649.16 485.26,649.84 486.65,650.51 488.04,651.17 489.43,651.83 490.82,652.49 492.21,653.15 493.6,653.8 494.99,654.45 496.38,655.09 497.77,655.73 499.16,656.37 500.55,657.01 501.94,657.64 503.33,658.26 504.72,658.89 506.11,659.51 507.5,660.13 508.89,660.74 510.28,661.35 511.67,661.96 513.06,662.56 514.45,663.16 515.84,663.76 517.23,664.36 518.62,664.95 520.01,665.54 521.4,666.12 522.79,666.7 524.18,667.28 525.57,667.86 526.96,668.43 528.35,669 529.74,669.57 531.13,670.14 532.52,670.7 533.91,671.26 535.3,671.81 536.69,672.37 538.08,672.92 539.46,673.46 540.85,674.01 542.24,674.55 543.63,675.09 545.02,675.63 546.41,676.16 547.8,676.69 549.19,677.22 550.58,677.75 551.97,678.27 553.36,678.79 554.75,679.31 556.14,679.83 557.53,680.34 558.92,680.85 560.31,681.36 561.7,681.87 563.09,682.37 564.48,682.87 565.87,683.37 567.26,683.87 568.65,684.36 570.04,684.85 571.43,685.34 572.82,685.83 574.21,686.31 575.6,686.79 576.99,687.27 578.38,687.75 579.77,688.23 581.16,688.7 582.55,689.17 583.94,689.64 585.33,690.11 586.72,690.57 588.11,691.03 589.5,691.49 590.89,691.95 592.28,692.41 593.67,692.86 595.06,693.31 596.45,693.76 597.84,694.21 599.23,694.66 600.62,695.1 602.01,695.54 603.4,695.98 604.79,696.42 606.18,696.86 607.57,697.29 608.96,697.72 610.35,698.15 611.74,698.58 613.13,699.01 614.52,699.43 615.91,699.85 617.3,700.27 618.69,700.69 620.08,701.11 621.47,701.52 622.86,701.94 624.25,702.35 625.64,702.76 627.03,703.16 628.42,703.57 629.81,703.97 631.2,704.38 632.59,704.78 633.98,705.18 635.37,705.57 636.76,705.97 638.15,706.36 639.54,706.75 640.93,707.15 642.32,707.53 643.71,707.92 645.1,708.31 646.49,708.69 647.88,709.07 649.27,709.45 650.66,709.83 652.05,710.21 653.44,710.59 654.83,710.96 656.22,711.33 657.61,711.7 658.99,712.07 660.38,712.44 661.77,712.81 663.16,713.17 664.55,713.54 665.94,713.9 667.33,714.26 668.72,714.62 670.11,714.98 671.5,715.33 672.89,715.69 674.28,716.04 675.67,716.39 677.06,716.75 678.45,717.09 679.84,717.44 681.23,717.79 682.62,718.13 684.01,718.48 685.4,718.82 686.79,719.16 688.18,719.5 689.57,719.84 690.96,720.17 692.35,720.51 693.74,720.84 695.13,721.18 696.52,721.51 697.91,721.84 699.3,722.17 700.69,722.5 702.08,722.82 703.47,723.15 704.86,723.47 706.25,723.79 707.64,724.11 709.03,724.44 710.42,724.75 711.81,725.07 713.2,725.39 714.59,725.7 715.98,726.02 717.37,726.33 718.76,726.64 720.15,726.95 721.54,727.26 722.93,727.57 724.32,727.88 725.71,728.18 727.1,728.49 728.49,728.79 729.88,729.09 731.27,729.39 732.66,729.69 734.05,729.99 735.44,730.29 736.83,730.59 738.22,730.88 739.61,731.18 741,731.47 742.39,731.76 743.78,732.06 745.17,732.35 746.56,732.64 747.95,732.92 749.34,733.21 750.73,733.5 752.12,733.78 753.51,734.07 754.9,734.35 756.29,734.63 757.68,734.91 759.07,735.19 760.46,735.47 761.85,735.75 763.24,736.02 764.63,736.3 766.02,736.58 767.41,736.85 768.8,737.12 770.19,737.39 771.58,737.67 772.97,737.94 774.36,738.2 775.75,738.47 777.14,738.74 778.53,739.01 779.91,739.27 781.3,739.54 782.69,739.8 784.08,740.06 785.47,740.32 786.86,740.58 788.25,740.84 789.64,741.1 791.03,741.36 792.42,741.62 793.81,741.87 795.2,742.13 796.59,742.38 797.98,742.64 799.37,742.89 800.76,743.14 802.15,743.39 803.54,743.64 804.93,743.89 806.32,744.14 807.71,744.39 809.1,744.64 810.49,744.88 811.88,745.13 813.27,745.37 814.66,745.61 816.05,745.86 817.44,746.1 818.83,746.34 820.22,746.58 821.61,746.82 823,747.06 824.39,747.3 825.78,747.53 827.17,747.77 828.56,748.01 829.95,748.24 831.34,748.47 832.73,748.71 834.12,748.94 835.51,749.17 836.9,749.4 838.29,749.63 839.68,749.86 841.07,750.09 842.46,750.32 843.85,750.54 845.24,750.77 846.63,751 848.02,751.22 849.41,751.45 850.8,751.67 852.19,751.89 853.58,752.11 854.97,752.34 856.36,752.56 857.75,752.78 859.14,753 860.53,753.21 861.92,753.43 863.31,753.65 864.7,753.87 866.09,754.08 867.48,754.3 868.87,754.51 870.26,754.72 871.65,754.94 873.04,755.15 874.43,755.36 875.82,755.57 877.21,755.78 878.6,755.99 879.99,756.2 881.38,756.41 882.77,756.62 884.16,756.83 885.55,757.03 886.94,757.24 888.33,757.44 889.72,757.65 891.11,757.85 892.5,758.05 893.89,758.26 895.28,758.46 896.67,758.66 898.06,758.86 899.44,759.06 900.83,759.26 902.22,759.46 903.61,759.66 905,759.86 906.39,760.05 907.78,760.25 909.17,760.45 910.56,760.64 911.95,760.84 913.34,761.03 914.73,761.22 916.12,761.42 917.51,761.61 918.9,761.8 920.29,761.99 921.68,762.18 923.07,762.37 924.46,762.56 925.85,762.75 927.24,762.94 928.63,763.13 930.02,763.32 931.41,763.5 932.8,763.69 934.19,763.88 935.58,764.06 936.97,764.25 938.36,764.43 939.75,764.61 941.14,764.8 942.53,764.98 943.92,765.16 945.31,765.34 946.7,765.52 948.09,765.71 949.48,765.89 950.87,766.06 952.26,766.24 953.65,766.42 955.04,766.6 956.43,766.78 957.82,766.95 959.21,767.13 960.6,767.31 961.99,767.48 963.38,767.66 964.77,767.83 966.16,768 967.55,768.18 968.94,768.35 970.33,768.52 971.72,768.69 973.11,768.87 974.5,769.04 975.89,769.21 977.28,769.38 978.67,769.55 980.06,769.72 981.45,769.88 982.84,770.05 984.23,770.22 985.62,770.39 987.01,770.55 988.4,770.72 989.79,770.89 991.18,771.05 992.57,771.22 993.96,771.38 995.35,771.54 996.74,771.71 998.13,771.87 999.52,772.03 1000.91,772.2 1002.3,772.36 1003.69,772.52 1005.08,772.68 1006.47,772.84 1007.86,773 1009.25,773.16 1010.64,773.32 1012.03,773.48 1013.42,773.63 1014.81,773.79 1016.2,773.95 1017.59,774.11 1018.97,774.26 1020.36,774.42 1021.75,774.57 1023.14,774.73 1024.53,774.88 1025.92,775.04 1027.31,775.19 1028.7,775.35 1030.09,775.5 1031.48,775.65 1032.87,775.8 1034.26,775.96 1035.65,776.11 1037.04,776.26 1038.43,776.41 1039.82,776.56 1041.21,776.71 1042.6,776.86 1043.99,777.01 1045.38,777.16 1046.77,777.31 1048.16,777.45 1049.55,777.6 1050.94,777.75 1052.33,777.9 1053.72,778.04" fill="none" stroke="rgb(60,101,145)" stroke-width="4.6"/>
<polyline points="98.87,26.85 100.26,37.55 101.65,48 103.04,58.19 104.43,68.13 105.82,77.84 107.21,87.33 108.6,96.59 109.99,105.65 111.38,114.5 112.77,123.15 114.16,131.61 115.55,139.89 116.94,147.99 118.33,155.91 119.72,163.67 121.11,171.27 122.5,178.7 123.89,185.99 125.28,193.13 126.67,200.12 128.06,206.98 129.45,213.7 130.84,220.29 132.23,226.75 133.62,233.09 135.01,239.31 136.4,245.42 137.79,251.41 139.18,257.28 140.57,263.06 141.96,268.72 143.35,274.29 144.74,279.76 146.13,285.13 147.52,290.41 148.91,295.59 150.3,300.69 151.69,305.7 153.08,310.63 154.47,315.47 155.86,320.23 157.25,324.92 158.64,329.53 160.03,334.06 161.42,338.52 162.81,342.91 164.2,347.23 165.59,351.49 166.98,355.67 168.37,359.8 169.76,363.86 171.15,367.85 172.54,371.79 173.93,375.67 175.32,379.49 176.71,383.26 178.09,386.97 179.48,390.62 180.87,394.22 182.26,397.77 183.65,401.28 185.04,404.73 186.43,408.13 187.82,411.49 189.21,414.8 190.6,418.06 191.99,421.28 193.38,424.45 194.77,427.59 196.16,430.68 197.55,433.73 198.94,436.74 200.33,439.71 201.72,442.64 203.11,445.53 204.5,448.39 205.89,451.21 207.28,453.99 208.67,456.74 210.06,459.46 211.45,462.14 212.84,464.79 214.23,467.4 215.62,469.99 217.01,472.54 218.4,475.06 219.79,477.55 221.18,480.01 222.57,482.44 223.96,484.85 225.35,487.22 226.74,489.57 228.13,491.89 229.52,494.18 230.91,496.45 232.3,498.69 233.69,500.91 235.08,503.1 236.47,505.27 237.86,507.41 239.25,509.53 240.64,511.62 242.03,513.69 243.42,515.74 244.81,517.77 246.2,519.78 247.59,521.76 248.98,523.73 250.37,525.67 251.76,527.59 253.15,529.49 254.54,531.37 255.93,533.24 257.32,535.08 258.71,536.9 260.1,538.71 261.49,540.5 262.88,542.26 264.27,544.02 265.66,545.75 267.05,547.47 268.44,549.17 269.83,550.85 271.22,552.51 272.61,554.16 274,555.8 275.39,557.42 276.78,559.02 278.17,560.61 279.56,562.18 280.95,563.73 282.34,565.28 283.73,566.8 285.12,568.32 286.51,569.82 287.9,571.3 289.29,572.77 290.68,574.23 292.07,575.68 293.46,577.11 294.85,578.53 296.24,579.93 297.63,581.33 299.01,582.71 300.4,584.08 301.79,585.43 303.18,586.78 304.57,588.11 305.96,589.43 307.35,590.74 308.74,592.04 310.13,593.33 311.52,594.6 312.91,595.87 314.3,597.12 315.69,598.36 317.08,599.6 318.47,600.82 319.86,602.03 321.25,603.24 322.64,604.43 324.03,605.61 325.42,606.78 326.81,607.95 328.2,609.1 329.59,610.24 330.98,611.38 332.37,612.5 333.76,613.62 335.15,614.73 336.54,615.83 337.93,616.92 339.32,618 340.71,619.07 342.1,620.14 343.49,621.19 344.88,622.24 346.27,623.28 347.66,624.31 349.05,625.34 350.44,626.35 351.83,627.36 353.22,628.36 354.61,629.35 356,630.34 357.39,631.32 358.78,632.29 360.17,633.25 361.56,634.21 362.95,635.16 364.34,636.1 365.73,637.03 367.12,637.96 368.51,638.88 369.9,639.8 371.29,640.71 372.68,641.61 374.07,642.5 375.46,643.39 376.85,644.27 378.24,645.15 379.63,646.02 381.02,646.88 382.41,647.74 383.8,648.59 385.19,649.44 386.58,650.28 387.97,651.11 389.36,651.94 390.75,652.76 392.14,653.58 393.53,654.39 394.92,655.2 396.31,656 397.7,656.79 399.09,657.58 400.48,658.37 401.87,659.14 403.26,659.92 404.65,660.69 406.04,661.45 407.43,662.21 408.82,662.96 410.21,663.71 411.6,664.45 412.99,665.19 414.38,665.92 415.77,666.65 417.16,667.38 418.54,668.1 419.93,668.81 421.32,669.52 422.71,670.23 424.1,670.93 425.49,671.63 426.88,672.32 428.27,673.01 429.66,673.69 431.05,674.37 432.44,675.04 433.83,675.71 435.22,676.38 436.61,677.04 438,677.7 439.39,678.36 440.78,679.01 442.17,679.65 443.56,680.3 444.95,680.93 446.34,681.57 447.73,682.2 449.12,682.83 450.51,683.45 451.9,684.07 453.29,684.69 454.68,685.3 456.07,685.91 457.46,686.51 458.85,687.11 460.24,687.71 461.63,688.3 463.02,688.9 464.41,689.48 465.8,690.07 467.19,690.65 468.58,691.22 469.97,691.8 471.36,692.37 472.75,692.94 474.14,693.5 475.53,694.06 476.92,694.62 478.31,695.17 479.7,695.72 481.09,696.27 482.48,696.82 483.87,697.36 485.26,697.9 486.65,698.43 488.04,698.97 489.43,699.5 490.82,700.02 492.21,700.55 493.6,701.07 494.99,701.59 496.38,702.1 497.77,702.62 499.16,703.13 500.55,703.64 501.94,704.14 503.33,704.64 504.72,705.14 506.11,705.64 507.5,706.13 508.89,706.62 510.28,707.11 511.67,707.6 513.06,708.08 514.45,708.56 515.84,709.04 517.23,709.52 518.62,709.99 520.01,710.46 521.4,710.93 522.79,711.39 524.18,711.86 525.57,712.32 526.96,712.78 528.35,713.23 529.74,713.69 531.13,714.14 532.52,714.59 533.91,715.04 535.3,715.48 536.69,715.92 538.08,716.36 539.46,716.8 540.85,717.24 542.24,717.67 543.63,718.1 545.02,718.53 546.41,718.96 547.8,719.38 549.19,719.81 550.58,720.23 551.97,720.65 553.36,721.06 554.75,721.48 556.14,721.89 557.53,722.3 558.92,722.71 560.31,723.12 561.7,723.52 563.09,723.93 564.48,724.33 565.87,724.73 567.26,725.12 568.65,725.52 570.04,725.91 571.43,726.3 572.82,726.69 574.21,727.08 575.6,727.47 576.99,727.85 578.38,728.23 579.77,728.61 581.16,728.99 582.55,729.37 583.94,729.74 585.33,730.12 586.72,730.49 588.11,730.86 589.5,731.23 590.89,731.59 592.28,731.96 593.67,732.32 595.06,732.68 596.45,733.04 597.84,733.4 599.23,733.76 600.62,734.11 602.01,734.46 603.4,734.82 604.79,735.17 606.18,735.51 607.57,735.86 608.96,736.21 610.35,736.55 611.74,736.89 613.13,737.23 614.52,737.57 615.91,737.91 617.3,738.25 618.69,738.58 620.08,738.92 621.47,739.25 622.86,739.58 624.25,739.91 625.64,740.24 627.03,740.56 628.42,740.89 629.81,741.21 631.2,741.53 632.59,741.85 633.98,742.17 635.37,742.49 636.76,742.81 638.15,743.12 639.54,743.43 640.93,743.75 642.32,744.06 643.71,744.37 645.1,744.68 646.49,744.98 647.88,745.29 649.27,745.59 650.66,745.9 652.05,746.2 653.44,746.5 654.83,746.8 656.22,747.1 657.61,747.39 658.99,747.69 660.38,747.98 661.77,748.28 663.16,748.57 664.55,748.86 665.94,749.15 667.33,749.44 668.72,749.73 670.11,750.01 671.5,750.3 672.89,750.58 674.28,750.86 675.67,751.15 677.06,751.43 678.45,751.71 679.84,751.98 681.23,752.26 682.62,752.54 684.01,752.81 685.4,753.09 686.79,753.36 688.18,753.63 689.57,753.9 690.96,754.17 692.35,754.44 693.74,754.71 695.13,754.97 696.52,755.24 697.91,755.5 699.3,755.76 700.69,756.03 702.08,756.29 703.47,756.55 704.86,756.81 706.25,757.06 707.64,757.32 709.03,757.58 710.42,757.83 711.81,758.09 713.2,758.34 714.59,758.59 715.98,758.84 717.37,759.09 718.76,759.34 720.15,759.59 721.54,759.84 722.93,760.09 724.32,760.33 725.71,760.58 727.1,760.82 728.49,761.06 729.88,761.3 731.27,761.55 732.66,761.79 734.05,762.02 735.44,762.26 736.83,762.5 738.22,762.74 739.61,762.97 741,763.21 742.39,763.44 743.78,763.67 745.17,763.91 746.56,764.14 747.95,764.37 749.34,764.6 750.73,764.83 752.12,765.06 753.51,765.28 754.9,765.51 756.29,765.73 757.68,765.96 759.07,766.18 760.46,766.41 761.85,766.63 763.24,766.85 764.63,767.07 766.02,767.29 767.41,767.51 768.8,767.73 770.19,767.95 771.58,768.16 772.97,768.38 774.36,768.59 775.75,768.81 777.14,769.02 778.53,769.23 779.91,769.45 781.3,769.66 782.69,769.87 784.08,770.08 785.47,770.29 786.86,770.5 788.25,770.71 789.64,770.91 791.03,771.12 792.42,771.32 793.81,771.53 795.2,771.73 796.59,771.94 797.98,772.14 799.37,772.34 800.76,772.54 802.15,772.74 803.54,772.94 804.93,773.14 806.32,773.34 807.71,773.54 809.1,773.74 810.49,773.94 811.88,774.13 813.27,774.33 814.66,774.52 816.05,774.72 817.44,774.91 818.83,775.1 820.22,775.29 821.61,775.49 823,775.68 824.39,775.87 825.78,776.06 827.17,776.25 828.56,776.43 829.95,776.62 831.34,776.81 832.73,777 834.12,777.18 835.51,777.37 836.9,777.55 838.29,777.74 839.68,777.92 841.07,778.1 842.46,778.28 843.85,778.47 845.24,778.65 846.63,778.83 848.02,779.01 849.41,779.19 850.8,779.37 852.19,779.54 853.58,779.72 854.97,779.9 856.36,780.08 857.75,780.25 859.14,780.43 860.53,780.6 861.92,780.78 863.31,780.95 864.7,781.12 866.09,781.29 867.48,781.47 868.87,781.64 870.26,781.81 871.65,781.98 873.04,782.15 874.43,782.32 875.82,782.49 877.21,782.66 878.6,782.82 879.99,782.99 881.38,783.16 882.77,783.32 884.16,783.49 885.55,783.66 886.94,783.82 888.33,783.98 889.72,784.15 891.11,784.31 892.5,784.47 893.89,784.64 895.28,784.8 896.67,784.96 898.06,785.12 899.44,785.28 900.83,785.44 902.22,785.6 903.61,785.76 905,785.92 906.39,786.07 907.78,786.23 909.17,786.39 910.56,786.54 911.95,786.7 913.34,786.86 914.73,787.01 916.12,787.16 917.51,787.32 918.9,787.47 920.29,787.63 921.68,787.78 923.07,787.93 924.46,788.08 925.85,788.23 927.24,788.38 928.63,788.53 930.02,788.68 931.41,788.83 932.8,788.98 934.19,789.13 935.58,789.28 936.97,789.43 938.36,789.57 939.75,789.72 941.14,789.87 942.53,790.01 943.92,790.16 945.31,790.3 946.7,790.45 948.09,790.59 949.48,790.74 950.87,790.88 952.26,791.02 953.65,791.17 955.04,791.31 956.43,791.45 957.82,791.59 959.21,791.73 960.6,791.87 961.99,792.02 963.38,792.15 964.77,792.29 966.16,792.43 967.55,792.57 968.94,792.71 970.33,792.85 971.72,792.99 973.11,793.12 974.5,793.26 975.89,793.4 977.28,793.53 978.67,793.67 980.06,793.8 981.45,793.94 982.84,794.07 984.23,794.21 985.62,794.34 987.01,794.47 988.4,794.61 989.79,794.74 991.18,794.87 992.57,795 993.96,795.13 995.35,795.27 996.74,795.4 998.13,795.53 999.52,795.66 1000.91,795.79 1002.3,795.92 1003.69,796.04 1005.08,796.17 1006.47,796.3 1007.86,796.43 1009.25,796.56 1010.64,796.68 1012.03,796.81 1013.42,796.94 1014.81,797.06 1016.2,797.19 1017.59,797.32 1018.97,797.44 1020.36,797.57 1021.75,797.69 1023.14,797.81 1024.53,797.94 1025.92,798.06 1027.31,798.18 1028.7,798.31 1030.09,798.43 1031.48,798.55 1032.87,798.67 1034.26,798.8 1035.65,798.92 1037.04,799.04 1038.43,799.16 1039.82,799.28 1041.21,799.4 1042.6,799.52 1043.99,799.64 1045.38,799.76 1046.77,799.87 1048.16,799.99 1049.55,800.11 1050.94,800.23 1052.33,800.35 1053.72,800.46" fill="none" stroke="rgb(62,30,118)" stroke-width="4.6"/>
<polyline points="82.19,102.9 83.58,112.73 84.97,122.28 86.36,131.56 87.75,140.57 89.14,149.33 90.53,157.85 91.92,166.14 93.31,174.21 94.7,182.06 96.09,189.71 97.48,197.16 98.87,204.43 100.26,211.51 101.65,218.41 103.04,225.15 104.43,231.72 105.82,238.14 107.21,244.4 108.6,250.52 109.99,256.49 111.38,262.33 112.77,268.04 114.16,273.62 115.55,279.07 116.94,284.41 118.33,289.63 119.72,294.74 121.11,299.75 122.5,304.64 123.89,309.44 125.28,314.13 126.67,318.74 128.06,323.24 129.45,327.66 130.84,332 132.23,336.24 133.62,340.41 135.01,344.49 136.4,348.5 137.79,352.43 139.18,356.29 140.57,360.08 141.96,363.8 143.35,367.45 144.74,371.03 146.13,374.55 147.52,378.01 148.91,381.41 150.3,384.75 151.69,388.03 153.08,391.26 154.47,394.43 155.86,397.55 157.25,400.61 158.64,403.63 160.03,406.6 161.42,409.51 162.81,412.38 164.2,415.21 165.59,417.99 166.98,420.73 168.37,423.42 169.76,426.07 171.15,428.68 172.54,431.25 173.93,433.79 175.32,436.28 176.71,438.74 178.09,441.16 179.48,443.54 180.87,445.89 182.26,448.21 183.65,450.49 185.04,452.74 186.43,454.96 187.82,457.15 189.21,459.3 190.6,461.43 191.99,463.52 193.38,465.59 194.77,467.63 196.16,469.64 197.55,471.63 198.94,473.59 200.33,475.52 201.72,477.43 203.11,479.31 204.5,481.17 205.89,483 207.28,484.81 208.67,486.6 210.06,488.36 211.45,490.11 212.84,491.83 214.23,493.52 215.62,495.2 217.01,496.86 218.4,498.5 219.79,500.11 221.18,501.71 222.57,503.29 223.96,504.85 225.35,506.39 226.74,507.91 228.13,509.42 229.52,510.9 230.91,512.37 232.3,513.83 233.69,515.26 235.08,516.68 236.47,518.09 237.86,519.48 239.25,520.85 240.64,522.21 242.03,523.55 243.42,524.88 244.81,526.19 246.2,527.49 247.59,528.77 248.98,530.04 250.37,531.3 251.76,532.54 253.15,533.77 254.54,534.99 255.93,536.19 257.32,537.39 258.71,538.57 260.1,539.73 261.49,540.89 262.88,542.03 264.27,543.16 265.66,544.28 267.05,545.39 268.44,546.49 269.83,547.58 271.22,548.65 272.61,549.72 274,550.77 275.39,551.82 276.78,552.85 278.17,553.88 279.56,554.89 280.95,555.9 282.34,556.89 283.73,557.88 285.12,558.85 286.51,559.82 287.9,560.78 289.29,561.73 290.68,562.67 292.07,563.6 293.46,564.52 294.85,565.44 296.24,566.34 297.63,567.24 299.01,568.13 300.4,569.01 301.79,569.88 303.18,570.75 304.57,571.61 305.96,572.46 307.35,573.3 308.74,574.14 310.13,574.97 311.52,575.79 312.91,576.6 314.3,577.41 315.69,578.21 317.08,579 318.47,579.79 319.86,580.57 321.25,581.34 322.64,582.11 324.03,582.87 325.42,583.62 326.81,584.37 328.2,585.11 329.59,585.85 330.98,586.58 332.37,587.3 333.76,588.02 335.15,588.73 336.54,589.43 337.93,590.13 339.32,590.83 340.71,591.52 342.1,592.2 343.49,592.88 344.88,593.55 346.27,594.22 347.66,594.88 349.05,595.54 350.44,596.19 351.83,596.84 353.22,597.48 354.61,598.12 356,598.75 357.39,599.38 358.78,600 360.17,600.62 361.56,601.23 362.95,601.84 364.34,602.44 365.73,603.04 367.12,603.64 368.51,604.23 369.9,604.82 371.29,605.4 372.68,605.98 374.07,606.55 375.46,607.12 376.85,607.68 378.24,608.24 379.63,608.8 381.02,609.35 382.41,609.9 383.8,610.45 385.19,610.99 386.58,611.53 387.97,612.06 389.36,612.59 390.75,613.12 392.14,613.64 393.53,614.16 394.92,614.68 396.31,615.19 397.7,615.7 399.09,616.2 400.48,616.7 401.87,617.2 403.26,617.7 404.65,618.19 406.04,618.67 407.43,619.16 408.82,619.64 410.21,620.12 411.6,620.59 412.99,621.07 414.38,621.53 415.77,622 417.16,622.46 418.54,622.92 419.93,623.38 421.32,623.83 422.71,624.28 424.1,624.73 425.49,625.18 426.88,625.62 428.27,626.06 429.66,626.49 431.05,626.93 432.44,627.36 433.83,627.79 435.22,628.21 436.61,628.64 438,629.06 439.39,629.47 440.78,629.89 442.17,630.3 443.56,630.71 444.95,631.12 446.34,631.52 447.73,631.93 449.12,632.33 450.51,632.72 451.9,633.12 453.29,633.51 454.68,633.9 456.07,634.29 457.46,634.67 458.85,635.06 460.24,635.44 461.63,635.82 463.02,636.19 464.41,636.57 465.8,636.94 467.19,637.31 468.58,637.68 469.97,638.04 471.36,638.41 472.75,638.77 474.14,639.13 475.53,639.49 476.92,639.84 478.31,640.19 479.7,640.54 481.09,640.89 482.48,641.24 483.87,641.59 485.26,641.93 486.65,642.27 488.04,642.61 489.43,642.95 490.82,643.28 492.21,643.62 493.6,643.95 494.99,644.28 496.38,644.61 497.77,644.93 499.16,645.26 500.55,645.58 501.94,645.9 503.33,646.22 504.72,646.54 506.11,646.85 507.5,647.17 508.89,647.48 510.28,647.79 511.67,648.1 513.06,648.41 514.45,648.71 515.84,649.01 517.23,649.32 518.62,649.62 520.01,649.92 521.4,650.21 522.79,650.51 524.18,650.81 525.57,651.1 526.96,651.39 528.35,651.68 529.74,651.97 531.13,652.25 532.52,652.54 533.91,652.82 535.3,653.11 536.69,653.39 538.08,653.67 539.46,653.95 540.85,654.22 542.24,654.5 543.63,654.77 545.02,655.04 546.41,655.32 547.8,655.59 549.19,655.85 550.58,656.12 551.97,656.39 553.36,656.65 554.75,656.91 556.14,657.18 557.53,657.44 558.92,657.7 560.31,657.95 561.7,658.21 563.09,658.47 564.48,658.72 565.87,658.97 567.26,659.22 568.65,659.48 570.04,659.72 571.43,659.97 572.82,660.22 574.21,660.47 575.6,660.71 576.99,660.95 578.38,661.2 579.77,661.44 581.16,661.68 582.55,661.92 583.94,662.15 585.33,662.39 586.72,662.63 588.11,662.86 589.5,663.09 590.89,663.32 592.28,663.56 593.67,663.79 595.06,664.01 596.45,664.24 597.84,664.47 599.23,664.7 600.62,664.92 602.01,665.14 603.4,665.37 604.79,665.59 606.18,665.81 607.57,666.03 608.96,666.25 610.35,666.46 611.74,666.68 613.13,666.9 614.52,667.11 615.91,667.33 617.3,667.54 618.69,667.75 620.08,667.96 621.47,668.17 622.86,668.38 624.25,668.59 625.64,668.8 627.03,669 628.42,669.21 629.81,669.41 631.2,669.61 632.59,669.82 633.98,670.02 635.37,670.22 636.76,670.42 638.15,670.62 639.54,670.82 640.93,671.02 642.32,671.21 643.71,671.41 645.1,671.6 646.49,671.8 647.88,671.99 649.27,672.18 650.66,672.37 652.05,672.56 653.44,672.75 654.83,672.94 656.22,673.13 657.61,673.32 658.99,673.51 660.38,673.69 661.77,673.88 663.16,674.06 664.55,674.25 665.94,674.43 667.33,674.61 668.72,674.79 670.11,674.97 671.5,675.15 672.89,675.33 674.28,675.51 675.67,675.69 677.06,675.87 678.45,676.04 679.84,676.22 681.23,676.39 682.62,676.57 684.01,676.74 685.4,676.91 686.79,677.09 688.18,677.26 689.57,677.43 690.96,677.6 692.35,677.77 693.74,677.94 695.13,678.1 696.52,678.27 697.91,678.44 699.3,678.6 700.69,678.77 702.08,678.93 703.47,679.1 704.86,679.26 706.25,679.42 707.64,679.59 709.03,679.75 710.42,679.91 711.81,680.07 713.2,680.23 714.59,680.39 715.98,680.55 717.37,680.7 718.76,680.86 720.15,681.02 721.54,681.17 722.93,681.33 724.32,681.48 725.71,681.64 727.1,681.79 728.49,681.94 729.88,682.1 731.27,682.25 732.66,682.4 734.05,682.55 735.44,682.7 736.83,682.85 738.22,683 739.61,683.15 741,683.29 742.39,683.44 743.78,683.59 745.17,683.74 746.56,683.88 747.95,684.03 749.34,684.17 750.73,684.31 752.12,684.46 753.51,684.6 754.9,684.74 756.29,684.89 757.68,685.03 759.07,685.17 760.46,685.31 761.85,685.45 763.24,685.59 764.63,685.73 766.02,685.87 767.41,686 768.8,686.14 770.19,686.28 771.58,686.41 772.97,686.55 774.36,686.69 775.75,686.82 777.14,686.95 778.53,687.09 779.91,687.22 781.3,687.36 782.69,687.49 784.08,687.62 785.47,687.75 786.86,687.88 788.25,688.01 789.64,688.14 791.03,688.27 792.42,688.4 793.81,688.53 795.2,688.66 796.59,688.79 797.98,688.92 799.37,689.04 800.76,689.17 802.15,689.3 803.54,689.42 804.93,689.55 806.32,689.67 807.71,689.8 809.1,689.92 810.49,690.04 811.88,690.17 813.27,690.29 814.66,690.41 816.05,690.53 817.44,690.66 818.83,690.78 820.22,690.9 821.61,691.02 823,691.14 824.39,691.26 825.78,691.38 827.17,691.49 828.56,691.61 829.95,691.73 831.34,691.85 832.73,691.97 834.12,692.08 835.51,692.2 836.9,692.31 838.29,692.43 839.68,692.55 841.07,692.66 842.46,692.77 843.85,692.89 845.24,693 846.63,693.12 848.02,693.23 849.41,693.34 850.8,693.45 852.19,693.57 853.58,693.68 854.97,693.79 856.36,693.9 857.75,694.01 859.14,694.12 860.53,694.23 861.92,694.34 863.31,694.45 864.7,694.56 866.09,694.66 867.48,694.77 868.87,694.88 870.26,694.99 871.65,695.09 873.04,695.2 874.43,695.31 875.82,695.41 877.21,695.52 878.6,695.62 879.99,695.73 881.38,695.83 882.77,695.94 884.16,696.04 885.55,696.14 886.94,696.25 888.33,696.35 889.72,696.45 891.11,696.56 892.5,696.66 893.89,696.76 895.28,696.86 896.67,696.96 898.06,697.06 899.44,697.16 900.83,697.26 902.22,697.36 903.61,697.46 905,697.56 906.39,697.66 907.78,697.76 909.17,697.86 910.56,697.95 911.95,698.05 913.34,698.15 914.73,698.25 916.12,698.34 917.51,698.44 918.9,698.54 920.29,698.63 921.68,698.73 923.07,698.82 924.46,698.92 925.85,699.01 927.24,699.11 928.63,699.2 930.02,699.3 931.41,699.39 932.8,699.48 934.19,699.58 935.58,699.67 936.97,699.76 938.36,699.85 939.75,699.95 941.14,700.04 942.53,700.13 943.92,700.22 945.31,700.31 946.7,700.4 948.09,700.49 949.48,700.58 950.87,700.67 952.26,700.76 953.65,700.85 955.04,700.94 956.43,701.03 957.82,701.12 959.21,701.2 960.6,701.29 961.99,701.38 963.38,701.47 964.77,701.56 966.16,701.64 967.55,701.73 968.94,701.82 970.33,701.9 971.72,701.99 973.11,702.07 974.5,702.16 975.89,702.24 977.28,702.33 978.67,702.41 980.06,702.5 981.45,702.58 982.84,702.67 984.23,702.75 985.62,702.83 987.01,702.92 988.4,703 989.79,703.08 991.18,703.17 992.57,703.25 993.96,703.33 995.35,703.41 996.74,703.49 998.13,703.58 999.52,703.66 1000.91,703.74 1002.3,703.82 1003.69,703.9 1005.08,703.98 1006.47,704.06 1007.86,704.14 1009.25,704.22 1010.64,704.3 1012.03,704.38 1013.42,704.46 1014.81,704.54 1016.2,704.62 1017.59,704.69 1018.97,704.77 1020.36,704.85 1021.75,704.93 1023.14,705.01 1024.53,705.08 1025.92,705.16 1027.31,705.24 1028.7,705.31 1030.09,705.39 1031.48,705.47 1032.87,705.54 1034.26,705.62 1035.65,705.69 1037.04,705.77 1038.43,705.85 1039.82,705.92 1041.21,706 1042.6,706.07 1043.99,706.14 1045.38,706.22 1046.77,706.29 1048.16,706.37 1049.55,706.44 1050.94,706.51 1052.33,706.59 1053.72,706.66" fill="none" stroke="#fff" stroke-opacity="0.8" stroke-width="4.0"/>
<line x1="92.6" x2="1033" y1="747.71" y2="747.71" stroke="#000" stroke-width="5.1" stroke-dasharray="5.1 8.3"/>
</g>
<g class="gt" font-family="Liberation Sans, sans-serif">
<text transform="translate(0,223.1) scale(0.9847,1)" x="250.91 293.18 332.86 370.39 392.8 428.62 447.49 471.16 485.55 526.11 543.3 559.4 592.61 630.7" font-size="64.415" fill="rgb(62,126,188)">Sub-virialized</text>
<text transform="translate(0,462) scale(0.9982,1)" x="540.86 582.52 621.58 659.31 698.71 717.14 739.12 774.51 793.02 816.39 830.39 870.49 887.41 903.14 935.81 973.31" font-size="64.285" fill="rgb(218,36,40)">Super-virialized</text>
<text transform="translate(0,365.6) scale(0.9479,1)" x="239.94 283.55 326.55 363.81 401.9 422.99 467.13 487.21" font-size="71.836" fill="#fff">Possible</text>
<text transform="translate(0,365.8) scale(0.9410,1)" x="556.85" font-size="73.871" fill="#fff">M</text>
<text transform="translate(0,375.4) scale(0.9154,1)" x="634.83 649.66 689.03" font-size="52.145" fill="#fff">ICM</text>
<text transform="translate(0,365.6) scale(1.0013,1)" x="694.58 717.58 762.89 805.66 848.89" font-size="72.463" fill="#fff">range</text>
<text transform="translate(0,548.5) scale(1.0431,1)" x="439.42 460.11 468.7 489.38 509.61 530.68" font-size="35.708" fill="#000">higher</text>
<text transform="translate(0,548.5) scale(1.2392,1)" x="465.51" font-size="35.814" fill="#000">f</text>
<text transform="translate(0,553.8) scale(0.9154,1)" x="643 650.15 669.13" font-size="25.147" fill="#000">ICM</text>
<text transform="translate(0,731.9) scale(0.9596,1)" x="118.21 151.66 176.46 201.16 230.42 269.92 280.93 303.23 330.79 341.44 357.68 395.49 422.52 444.54" font-size="42.982" fill="#000">Dynamical mass</text>
</g>
<g stroke="#000" stroke-width="2.8" stroke-linecap="round" stroke-linejoin="round" fill="none">
<path d="M464.6,498 L411.8,564.7 M415.6,549.1 L411.8,564.7 L426.6,558"/>
</g>
<rect x="734.3" y="556.5" width="282.6" height="270.3" rx="4.5" fill="rgb(246,251,251)" fill-opacity="0.8" stroke="#ccc" stroke-opacity="0.8" stroke-width="2.5"/>
<g class="gt" font-family="Liberation Sans, sans-serif">
<line x1="745.6" x2="818.4" y1="586.6" y2="586.6" stroke="rgb(185,238,52)" stroke-width="4.6"/>
<text transform="translate(843.66,597.7) scale(1.28,1)" font-size="35" fill="#000">f</text>
<text transform="translate(855.76,602.5) scale(1.01,1)" font-size="23" fill="#000">ICM</text>
<text transform="translate(901.36,597.7) scale(1.25,1)" font-size="35" fill="#000">=</text>
<text transform="translate(928.21,597.7) scale(1.07,1)" font-size="35.6" fill="#000">0.02</text>
<line x1="745.6" x2="818.4" y1="638.4" y2="638.4" stroke="rgb(94,212,118)" stroke-width="4.6"/>
<text transform="translate(843.66,649.55) scale(1.28,1)" font-size="35" fill="#000">f</text>
<text transform="translate(855.76,654.35) scale(1.01,1)" font-size="23" fill="#000">ICM</text>
<text transform="translate(901.36,649.55) scale(1.25,1)" font-size="35" fill="#000">=</text>
<text transform="translate(928.23,649.55) scale(1.06,1)" font-size="35.6" fill="#000">0.04</text>
<line x1="745.6" x2="818.4" y1="690.2" y2="690.2" stroke="rgb(64,152,138)" stroke-width="4.6"/>
<text transform="translate(843.66,701.4) scale(1.28,1)" font-size="35" fill="#000">f</text>
<text transform="translate(855.76,706.2) scale(1.01,1)" font-size="23" fill="#000">ICM</text>
<text transform="translate(901.36,701.4) scale(1.25,1)" font-size="35" fill="#000">=</text>
<text transform="translate(928.21,701.4) scale(1.07,1)" font-size="35.6" fill="#000">0.06</text>
<line x1="745.6" x2="818.4" y1="742" y2="742" stroke="rgb(60,101,145)" stroke-width="4.6"/>
<text transform="translate(843.66,753.25) scale(1.28,1)" font-size="35" fill="#000">f</text>
<text transform="translate(855.76,758.05) scale(1.01,1)" font-size="23" fill="#000">ICM</text>
<text transform="translate(901.36,753.25) scale(1.25,1)" font-size="35" fill="#000">=</text>
<text transform="translate(928.21,753.25) scale(1.07,1)" font-size="35.6" fill="#000">0.08</text>
<line x1="745.6" x2="818.4" y1="793.8" y2="793.8" stroke="rgb(62,30,118)" stroke-width="4.6"/>
<text transform="translate(843.66,805.1) scale(1.28,1)" font-size="35" fill="#000">f</text>
<text transform="translate(855.76,809.9) scale(1.01,1)" font-size="23" fill="#000">ICM</text>
<text transform="translate(901.36,805.1) scale(1.25,1)" font-size="35" fill="#000">=</text>
<text transform="translate(928.22,805.1) scale(1.07,1)" font-size="35.6" fill="#000">0.10</text>
</g>
<g stroke="#000" stroke-width="2.5" fill="none">
<rect x="92.6" y="96.2" width="940.4" height="747.2" stroke-linejoin="miter"/>
<path d="M113.53,843.4V837.2M134.43,843.4V837.2M155.32,843.4V837.2M176.21,843.4V837.2M197.11,843.4V831.2M218,843.4V837.2M238.89,843.4V837.2M259.78,843.4V837.2M280.68,843.4V837.2M301.57,843.4V831.2M322.46,843.4V837.2M343.36,843.4V837.2M364.25,843.4V837.2M385.14,843.4V837.2M406.04,843.4V831.2M426.93,843.4V837.2M447.82,843.4V837.2M468.72,843.4V837.2M489.61,843.4V837.2M510.5,843.4V831.2M531.39,843.4V837.2M552.29,843.4V837.2M573.18,843.4V837.2M594.07,843.4V837.2M614.97,843.4V831.2M635.86,843.4V837.2M656.75,843.4V837.2M677.65,843.4V837.2M698.54,843.4V837.2M719.43,843.4V831.2M740.33,843.4V837.2M761.22,843.4V837.2M782.11,843.4V837.2M803,843.4V837.2M823.9,843.4V831.2M844.79,843.4V837.2M865.68,843.4V837.2M886.58,843.4V837.2M907.47,843.4V837.2M928.36,843.4V831.2M949.26,843.4V837.2M970.15,843.4V837.2M991.04,843.4V837.2M1011.94,843.4V837.2M92.6,826.62H98.8M92.6,794.86H98.8M92.6,763.09H98.8M92.6,731.33H104.8M92.6,699.57H98.8M92.6,667.8H98.8M92.6,636.04H98.8M92.6,604.27H98.8M92.6,572.51H104.8M92.6,540.75H98.8M92.6,508.98H98.8M92.6,477.22H98.8M92.6,445.45H98.8M92.6,413.69H104.8M92.6,381.93H98.8M92.6,350.16H98.8M92.6,318.4H98.8M92.6,286.63H98.8M92.6,254.87H104.8M92.6,223.11H98.8M92.6,191.34H98.8M92.6,159.58H98.8M92.6,127.81H98.8"/>
</g>
<g class="gt" font-family="Liberation Sans, sans-serif">
<text transform="translate(0,880.7) scale(0.9657,1)" x="69.58 91.29 102.84" font-size="36.047" fill="#000">0.5</text>
<text transform="translate(0,880.7) scale(0.9719,1)" x="175.25 197.03 208.61" font-size="36.047" fill="#000">1.0</text>
<text transform="translate(0,880.7) scale(0.9455,1)" x="291.31 313.54 325.45" font-size="36.047" fill="#000">1.5</text>
<text transform="translate(0,880.7) scale(0.9751,1)" x="389.28 411.28 422.81" font-size="36.047" fill="#000">2.0</text>
<text transform="translate(0,880.7) scale(0.9493,1)" x="510.54 533 544.84" font-size="36.047" fill="#000">2.5</text>
<text transform="translate(0,880.7) scale(0.9731,1)" x="605.25 626.78 638.34" font-size="36.047" fill="#000">3.0</text>
<text transform="translate(0,880.7) scale(0.9478,1)" x="732.28 754.26 766.12" font-size="36.047" fill="#000">3.5</text>
<text transform="translate(0,880.7) scale(0.9908,1)" x="805.53 826.82 838.08" font-size="36.047" fill="#000">4.0</text>
<text transform="translate(0,880.7) scale(0.9663,1)" x="934.73 956.43 967.97" font-size="36.047" fill="#000">4.5</text>
<text transform="translate(0,880.7) scale(0.9657,1)" x="1042.51 1064.35 1076.04" font-size="36.047" fill="#000">5.0</text>
<text transform="translate(0,744.93) scale(0.9365,1)" x="64.96" font-size="36.337" fill="#000">1</text>
<text transform="translate(0,586.11) scale(0.9451,1)" x="64.25" font-size="36.337" fill="#000">2</text>
<text transform="translate(0,427.29) scale(0.9417,1)" x="64.33" font-size="36.337" fill="#000">3</text>
<text transform="translate(0,268.47) scale(0.9807,1)" x="60.5" font-size="36.337" fill="#000">4</text>
<text transform="translate(0,109.65) scale(0.9254,1)" x="65.71" font-size="36.337" fill="#000">5</text>
<text transform="translate(0,76.5) scale(0.9608,1)" x="91.4 113.92" font-size="36.047" fill="#000">50</text>
<text transform="translate(0,76.5) scale(0.9689,1)" x="173.55 195.69" font-size="36.047" fill="#000">30</text>
<text transform="translate(0,76.5) scale(0.9710,1)" x="275.98 298.58" font-size="36.047" fill="#000">20</text>
<text transform="translate(0,76.5) scale(0.9382,1)" x="392.91 415.86" font-size="36.047" fill="#000">15</text>
<text transform="translate(0,76.5) scale(0.9674,1)" x="587.7 610.1" font-size="36.047" fill="#000">10</text>
<text transform="translate(0,76.5) scale(1.0209,1)" x="633.27" font-size="36.047" fill="#000">9</text>
<text transform="translate(0,76.5) scale(0.9991,1)" x="730.93" font-size="36.047" fill="#000">8</text>
<text transform="translate(0,76.5) scale(0.9669,1)" x="866.77" font-size="36.047" fill="#000">7</text>
<text transform="translate(0,76.5) scale(1.0230,1)" x="958.6" font-size="36.047" fill="#000">6</text>
<text transform="translate(417.17,35.4) scale(0.9999,1)" font-size="41.861" fill="#000">M</text>
<text transform="translate(451.19,42.12) scale(1.0190,1)" font-size="28.813" fill="#000">ICM</text>
<text transform="translate(518.07,32.97) scale(1.1858,1)" font-size="38.192" fill="#000">[</text>
<text transform="translate(534.6,35.19) scale(1.1024,1)" font-size="41.666" fill="#000">10</text>
<text transform="translate(586.99,20.7) scale(1.0558,1)" font-size="28.780" fill="#000">11</text>
<text transform="translate(623.69,35.4) scale(0.9928,1)" font-size="41.861" fill="#000">M</text>
<text transform="translate(697.65,32.97) scale(1.1858,1)" font-size="38.192" fill="#000">]</text>
<text transform="translate(453.02,938.5) scale(1.0429,1)" font-size="41.716" fill="#000">T</text>
<text transform="translate(479.07,945.11) scale(0.9660,1)" font-size="29.519" fill="#000">ICM</text>
<text transform="translate(561.15,936.1) scale(1.1231,1)" font-size="38.085" fill="#000">[</text>
<text transform="translate(577.89,938.59) scale(1.0387,1)" font-size="41.807" fill="#000">10</text>
<text transform="translate(628.85,924) scale(0.9873,1)" font-size="30.524" fill="#000">7</text>
<text transform="translate(648.15,938.5) scale(0.9777,1)" font-size="41.716" fill="#000">K</text>
<text transform="translate(678.07,936.1) scale(1.1231,1)" font-size="38.085" fill="#000">]</text>
<text transform="translate(35.3,615.1) rotate(-90) scale(0.9540,1)" font-size="42.152" fill="#000">M</text>
<text transform="translate(42.9,580.7) rotate(-90) scale(1.0399,1)" font-size="30.508" fill="#000">200</text>
<text transform="translate(33.14,513.22) rotate(-90) scale(1.1273,1)" font-size="38.836" fill="#000">[</text>
<text transform="translate(35.19,496.1) rotate(-90) scale(1.0363,1)" font-size="41.807" fill="#000">10</text>
<text transform="translate(20.82,443.97) rotate(-90) scale(1.0253,1)" font-size="29.096" fill="#000">13</text>
<text transform="translate(35.3,407.4) rotate(-90) scale(0.9540,1)" font-size="42.152" fill="#000">M</text>
<text transform="translate(33,333.21) rotate(-90) scale(1.0180,1)" font-size="39.050" fill="#000">]</text>
</g>
<g stroke="#000" fill="none" stroke-width="2.3">
<circle cx="675.8" cy="33.7" r="8.0"/>
<circle cx="33.8" cy="355.9" r="8.0"/>
<path d="M450.2,908.6 L442.6,925.8 L450.2,943.0 M535.8,908.6 L543.4,925.8 L535.8,943.0" stroke-width="2.6"/>
</g>
<circle cx="675.8" cy="33.7" r="2.1" fill="#000"/>
<circle cx="33.8" cy="355.9" r="2.1" fill="#000"/></svg>
</body></html>
